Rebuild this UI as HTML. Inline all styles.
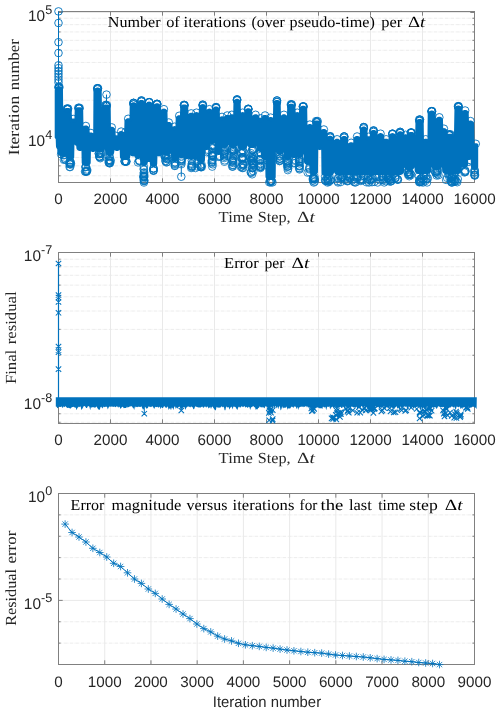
<!DOCTYPE html>
<html><head><meta charset="utf-8"><style>
html,body{margin:0;padding:0;background:#fff;}
svg{display:block;}
text{text-rendering:geometricPrecision;}
</style></head><body>
<svg width="500" height="712" viewBox="0 0 500 712">
<rect width="500" height="712" fill="#fff"/>
<line x1="58.5" y1="175.78" x2="474.5" y2="175.78" stroke="#ececec" stroke-width="1" stroke-dasharray="3.6 0.8 0.5 0.7"/>
<line x1="58.5" y1="165.84" x2="474.5" y2="165.84" stroke="#ececec" stroke-width="1" stroke-dasharray="3.6 0.8 0.5 0.7"/>
<line x1="58.5" y1="157.44" x2="474.5" y2="157.44" stroke="#ececec" stroke-width="1" stroke-dasharray="3.6 0.8 0.5 0.7"/>
<line x1="58.5" y1="150.16" x2="474.5" y2="150.16" stroke="#ececec" stroke-width="1" stroke-dasharray="3.6 0.8 0.5 0.7"/>
<line x1="58.5" y1="143.74" x2="474.5" y2="143.74" stroke="#ececec" stroke-width="1" stroke-dasharray="3.6 0.8 0.5 0.7"/>
<line x1="58.5" y1="100.22" x2="474.5" y2="100.22" stroke="#ececec" stroke-width="1" stroke-dasharray="3.6 0.8 0.5 0.7"/>
<line x1="58.5" y1="78.12" x2="474.5" y2="78.12" stroke="#ececec" stroke-width="1" stroke-dasharray="3.6 0.8 0.5 0.7"/>
<line x1="58.5" y1="62.44" x2="474.5" y2="62.44" stroke="#ececec" stroke-width="1" stroke-dasharray="3.6 0.8 0.5 0.7"/>
<line x1="58.5" y1="50.28" x2="474.5" y2="50.28" stroke="#ececec" stroke-width="1" stroke-dasharray="3.6 0.8 0.5 0.7"/>
<line x1="58.5" y1="40.34" x2="474.5" y2="40.34" stroke="#ececec" stroke-width="1" stroke-dasharray="3.6 0.8 0.5 0.7"/>
<line x1="58.5" y1="31.94" x2="474.5" y2="31.94" stroke="#ececec" stroke-width="1" stroke-dasharray="3.6 0.8 0.5 0.7"/>
<line x1="58.5" y1="24.66" x2="474.5" y2="24.66" stroke="#ececec" stroke-width="1" stroke-dasharray="3.6 0.8 0.5 0.7"/>
<line x1="58.5" y1="18.24" x2="474.5" y2="18.24" stroke="#ececec" stroke-width="1" stroke-dasharray="3.6 0.8 0.5 0.7"/>
<line x1="58.5" y1="138" x2="474.5" y2="138" stroke="#e9e9e9" stroke-width="1"/>
<line x1="58.5" y1="12.5" x2="474.5" y2="12.5" stroke="#e9e9e9" stroke-width="1"/>
<line x1="110.5" y1="11.5" x2="110.5" y2="182.5" stroke="#e9e9e9" stroke-width="1"/>
<line x1="162.5" y1="11.5" x2="162.5" y2="182.5" stroke="#e9e9e9" stroke-width="1"/>
<line x1="214.5" y1="11.5" x2="214.5" y2="182.5" stroke="#e9e9e9" stroke-width="1"/>
<line x1="266.5" y1="11.5" x2="266.5" y2="182.5" stroke="#e9e9e9" stroke-width="1"/>
<line x1="318.5" y1="11.5" x2="318.5" y2="182.5" stroke="#e9e9e9" stroke-width="1"/>
<line x1="370.5" y1="11.5" x2="370.5" y2="182.5" stroke="#e9e9e9" stroke-width="1"/>
<line x1="422.5" y1="11.5" x2="422.5" y2="182.5" stroke="#e9e9e9" stroke-width="1"/>
<line x1="58.5" y1="422.27" x2="474.5" y2="422.27" stroke="#ececec" stroke-width="1" stroke-dasharray="3.6 0.8 0.5 0.7"/>
<line x1="58.5" y1="413.75" x2="474.5" y2="413.75" stroke="#ececec" stroke-width="1" stroke-dasharray="3.6 0.8 0.5 0.7"/>
<line x1="58.5" y1="406.23" x2="474.5" y2="406.23" stroke="#ececec" stroke-width="1" stroke-dasharray="3.6 0.8 0.5 0.7"/>
<line x1="58.5" y1="355.25" x2="474.5" y2="355.25" stroke="#ececec" stroke-width="1" stroke-dasharray="3.6 0.8 0.5 0.7"/>
<line x1="58.5" y1="329.36" x2="474.5" y2="329.36" stroke="#ececec" stroke-width="1" stroke-dasharray="3.6 0.8 0.5 0.7"/>
<line x1="58.5" y1="311" x2="474.5" y2="311" stroke="#ececec" stroke-width="1" stroke-dasharray="3.6 0.8 0.5 0.7"/>
<line x1="58.5" y1="296.75" x2="474.5" y2="296.75" stroke="#ececec" stroke-width="1" stroke-dasharray="3.6 0.8 0.5 0.7"/>
<line x1="58.5" y1="285.11" x2="474.5" y2="285.11" stroke="#ececec" stroke-width="1" stroke-dasharray="3.6 0.8 0.5 0.7"/>
<line x1="58.5" y1="275.27" x2="474.5" y2="275.27" stroke="#ececec" stroke-width="1" stroke-dasharray="3.6 0.8 0.5 0.7"/>
<line x1="58.5" y1="266.75" x2="474.5" y2="266.75" stroke="#ececec" stroke-width="1" stroke-dasharray="3.6 0.8 0.5 0.7"/>
<line x1="58.5" y1="259.23" x2="474.5" y2="259.23" stroke="#ececec" stroke-width="1" stroke-dasharray="3.6 0.8 0.5 0.7"/>
<line x1="58.5" y1="399.5" x2="474.5" y2="399.5" stroke="#e9e9e9" stroke-width="1"/>
<line x1="110.5" y1="252.5" x2="110.5" y2="423.5" stroke="#e9e9e9" stroke-width="1"/>
<line x1="162.5" y1="252.5" x2="162.5" y2="423.5" stroke="#e9e9e9" stroke-width="1"/>
<line x1="214.5" y1="252.5" x2="214.5" y2="423.5" stroke="#e9e9e9" stroke-width="1"/>
<line x1="266.5" y1="252.5" x2="266.5" y2="423.5" stroke="#e9e9e9" stroke-width="1"/>
<line x1="318.5" y1="252.5" x2="318.5" y2="423.5" stroke="#e9e9e9" stroke-width="1"/>
<line x1="370.5" y1="252.5" x2="370.5" y2="423.5" stroke="#e9e9e9" stroke-width="1"/>
<line x1="422.5" y1="252.5" x2="422.5" y2="423.5" stroke="#e9e9e9" stroke-width="1"/>
<line x1="58.5" y1="643.12" x2="474.5" y2="643.12" stroke="#ececec" stroke-width="1" stroke-dasharray="3.6 0.8 0.5 0.7"/>
<line x1="58.5" y1="621.75" x2="474.5" y2="621.75" stroke="#ececec" stroke-width="1" stroke-dasharray="3.6 0.8 0.5 0.7"/>
<line x1="58.5" y1="579" x2="474.5" y2="579" stroke="#ececec" stroke-width="1" stroke-dasharray="3.6 0.8 0.5 0.7"/>
<line x1="58.5" y1="557.62" x2="474.5" y2="557.62" stroke="#ececec" stroke-width="1" stroke-dasharray="3.6 0.8 0.5 0.7"/>
<line x1="58.5" y1="536.25" x2="474.5" y2="536.25" stroke="#ececec" stroke-width="1" stroke-dasharray="3.6 0.8 0.5 0.7"/>
<line x1="58.5" y1="514.88" x2="474.5" y2="514.88" stroke="#ececec" stroke-width="1" stroke-dasharray="3.6 0.8 0.5 0.7"/>
<line x1="58.5" y1="600.38" x2="474.5" y2="600.38" stroke="#e9e9e9" stroke-width="1"/>
<line x1="104.72" y1="493.5" x2="104.72" y2="664.5" stroke="#e9e9e9" stroke-width="1"/>
<line x1="150.94" y1="493.5" x2="150.94" y2="664.5" stroke="#e9e9e9" stroke-width="1"/>
<line x1="197.17" y1="493.5" x2="197.17" y2="664.5" stroke="#e9e9e9" stroke-width="1"/>
<line x1="243.39" y1="493.5" x2="243.39" y2="664.5" stroke="#e9e9e9" stroke-width="1"/>
<line x1="289.61" y1="493.5" x2="289.61" y2="664.5" stroke="#e9e9e9" stroke-width="1"/>
<line x1="335.83" y1="493.5" x2="335.83" y2="664.5" stroke="#e9e9e9" stroke-width="1"/>
<line x1="382.06" y1="493.5" x2="382.06" y2="664.5" stroke="#e9e9e9" stroke-width="1"/>
<line x1="428.28" y1="493.5" x2="428.28" y2="664.5" stroke="#e9e9e9" stroke-width="1"/>
<path d="M110.5 182.5V178.3M110.5 11.5V15.7M162.5 182.5V178.3M162.5 11.5V15.7M214.5 182.5V178.3M214.5 11.5V15.7M266.5 182.5V178.3M266.5 11.5V15.7M318.5 182.5V178.3M318.5 11.5V15.7M370.5 182.5V178.3M370.5 11.5V15.7M422.5 182.5V178.3M422.5 11.5V15.7M58.5 138H62.7M474.5 138H470.3M58.5 12.5H62.7M474.5 12.5H470.3M58.5 175.78H60.6M474.5 175.78H472.4M58.5 165.84H60.6M474.5 165.84H472.4M58.5 157.44H60.6M474.5 157.44H472.4M58.5 150.16H60.6M474.5 150.16H472.4M58.5 143.74H60.6M474.5 143.74H472.4M58.5 100.22H60.6M474.5 100.22H472.4M58.5 78.12H60.6M474.5 78.12H472.4M58.5 62.44H60.6M474.5 62.44H472.4M58.5 50.28H60.6M474.5 50.28H472.4M58.5 40.34H60.6M474.5 40.34H472.4M58.5 31.94H60.6M474.5 31.94H472.4M58.5 24.66H60.6M474.5 24.66H472.4M58.5 18.24H60.6M474.5 18.24H472.4" stroke="#808080" stroke-width="1" fill="none"/>
<rect x="58.5" y="11.5" width="416.0" height="171.0" fill="none" stroke="#808080" stroke-width="1"/>
<path d="M110.5 423.5V419.3M110.5 252.5V256.7M162.5 423.5V419.3M162.5 252.5V256.7M214.5 423.5V419.3M214.5 252.5V256.7M266.5 423.5V419.3M266.5 252.5V256.7M318.5 423.5V419.3M318.5 252.5V256.7M370.5 423.5V419.3M370.5 252.5V256.7M422.5 423.5V419.3M422.5 252.5V256.7M58.5 399.5H62.7M474.5 399.5H470.3M58.5 252.5H62.7M474.5 252.5H470.3M58.5 422.27H60.6M474.5 422.27H472.4M58.5 413.75H60.6M474.5 413.75H472.4M58.5 406.23H60.6M474.5 406.23H472.4M58.5 355.25H60.6M474.5 355.25H472.4M58.5 329.36H60.6M474.5 329.36H472.4M58.5 311H60.6M474.5 311H472.4M58.5 296.75H60.6M474.5 296.75H472.4M58.5 285.11H60.6M474.5 285.11H472.4M58.5 275.27H60.6M474.5 275.27H472.4M58.5 266.75H60.6M474.5 266.75H472.4M58.5 259.23H60.6M474.5 259.23H472.4" stroke="#808080" stroke-width="1" fill="none"/>
<rect x="58.5" y="252.5" width="416.0" height="171.0" fill="none" stroke="#808080" stroke-width="1"/>
<path d="M104.72 664.5V660.3M104.72 493.5V497.7M150.94 664.5V660.3M150.94 493.5V497.7M197.17 664.5V660.3M197.17 493.5V497.7M243.39 664.5V660.3M243.39 493.5V497.7M289.61 664.5V660.3M289.61 493.5V497.7M335.83 664.5V660.3M335.83 493.5V497.7M382.06 664.5V660.3M382.06 493.5V497.7M428.28 664.5V660.3M428.28 493.5V497.7M58.5 493.5H62.7M474.5 493.5H470.3M58.5 600.38H62.7M474.5 600.38H470.3M58.5 643.12H60.6M474.5 643.12H472.4M58.5 621.75H60.6M474.5 621.75H472.4M58.5 579H60.6M474.5 579H472.4M58.5 557.62H60.6M474.5 557.62H472.4M58.5 536.25H60.6M474.5 536.25H472.4M58.5 514.88H60.6M474.5 514.88H472.4" stroke="#808080" stroke-width="1" fill="none"/>
<rect x="58.5" y="493.5" width="416.0" height="171.0" fill="none" stroke="#808080" stroke-width="1"/>
<polygon fill="#0072BD" points="54.7,90 54.95,88.64 55.2,88.12 55.45,87.73 55.7,87.43 55.95,87.18 56.2,86.98 56.45,86.8 56.7,86.65 56.95,86.53 57.2,86.43 57.45,86.35 57.7,86.29 57.95,86.24 58.2,86.21 58.45,86.2 58.7,86.2 58.95,86.2 59.2,86.2 59.45,86.2 59.7,86.22 59.95,86.26 60.2,86.31 60.45,86.38 60.7,86.47 60.95,86.58 61.2,86.71 61.45,86.87 61.7,87.05 61.95,87.28 62.2,87.54 62.45,87.87 62.7,88.3 62.95,88.94 63.2,110.83 63.45,110.11 63.7,109.65 63.95,109.3 64.2,109.03 64.45,108.8 64.7,108.6 64.95,108.44 65.2,108.3 65.45,108.19 65.7,108.09 65.95,108.02 66.2,107.97 66.45,107.93 66.7,107.91 66.95,107.9 67.2,107.9 67.45,107.9 67.7,107.9 67.95,107.9 68.2,107.9 68.45,107.92 68.7,107.95 68.95,108 69.2,108.06 69.45,108.15 69.7,108.25 69.95,108.38 70.2,108.53 70.45,108.71 70.7,108.93 70.95,109.19 71.2,109.5 71.45,109.91 71.7,110.48 71.95,118.61 72.2,118.53 72.45,118.47 72.7,118.43 72.95,118.41 73.2,118.4 73.45,118.41 73.7,118.43 73.95,118.47 74.2,118.53 74.45,118.61 74.7,109.78 74.95,109.21 75.2,108.8 75.45,108.49 75.7,108.23 75.95,108.01 76.2,107.83 76.45,107.68 76.7,107.55 76.95,107.45 77.2,107.36 77.45,107.3 77.7,107.25 77.95,107.22 78.2,107.2 78.45,107.2 78.7,107.2 78.95,107.2 79.2,107.2 79.45,107.2 79.7,107.2 79.95,107.22 80.2,107.25 80.45,107.3 80.7,107.36 80.95,107.45 81.2,107.55 81.45,107.68 81.7,107.83 81.95,108.01 82.2,108.23 82.45,108.49 82.7,108.8 82.95,109.21 83.2,109.78 83.45,126.25 83.7,126.07 83.95,125.91 84.2,125.78 84.45,125.67 84.7,125.58 84.95,125.51 85.2,125.46 85.45,125.42 85.7,125.4 85.95,125.4 86.2,125.42 86.45,125.45 86.7,125.5 86.95,125.56 87.2,125.65 87.45,125.75 87.7,125.88 87.95,126.03 88.2,126.21 88.45,126.43 88.7,126.69 88.95,127 89.2,127.41 89.45,127.98 89.7,132.58 89.95,132.51 90.2,132.46 90.45,132.42 90.7,132.4 90.95,132.4 91.2,132.42 91.45,132.45 91.7,132.5 91.95,132.56 92.2,132.65 92.45,132.75 92.7,132.88 92.95,133.03 93.2,133.21 93.45,90.79 93.7,89.92 93.95,89.43 94.2,89.07 94.45,88.78 94.7,88.54 94.95,88.34 95.2,88.17 95.45,88.03 95.7,87.91 95.95,87.81 96.2,87.73 96.45,87.67 96.7,87.63 96.95,87.61 97.2,87.6 97.45,87.6 97.7,87.6 97.95,87.6 98.2,87.61 98.45,87.63 98.7,87.67 98.95,87.72 99.2,87.79 99.45,87.89 99.7,88 99.95,88.14 100.2,88.3 100.45,88.5 100.7,88.73 100.95,89 101.2,89.35 101.45,89.81 101.7,90.53 101.95,107.14 102.2,106.5 102.45,106.07 102.7,105.74 102.95,105.48 103.2,105.25 103.45,105.07 103.7,104.91 103.95,104.78 104.2,104.67 104.45,104.58 104.7,104.51 104.95,104.46 105.2,104.42 105.45,104.4 105.7,104.4 105.95,104.4 106.2,104.4 106.45,104.4 106.7,104.4 106.95,104.4 107.2,104.41 107.45,104.44 107.7,104.49 107.95,104.55 108.2,104.63 108.45,104.73 108.7,104.85 108.95,105 109.2,105.18 109.45,105.38 109.7,105.63 109.95,105.93 110.2,106.32 110.45,106.84 110.7,108.2 110.95,126.89 111.2,126.84 111.45,126.81 111.7,126.8 111.95,126.81 112.2,126.83 112.45,126.87 112.7,126.92 112.95,126.99 113.2,127.09 113.45,127.2 113.7,127.34 113.95,127.5 114.2,127.7 114.45,127.93 114.7,128.2 114.95,128.55 115.2,129.01 115.45,129.73 115.7,135.2 115.95,135.22 116.2,135.25 116.45,135.3 116.7,135.36 116.95,135.45 117.2,135.55 117.45,134.19 117.7,133.32 117.95,132.83 118.2,132.47 118.45,132.18 118.7,131.94 118.95,131.74 119.2,131.57 119.45,131.43 119.7,131.31 119.95,131.21 120.2,131.13 120.45,131.07 120.7,131.03 120.95,131.01 121.2,131 121.45,131.01 121.7,131.03 121.95,131.07 122.2,131.13 122.45,131.21 122.7,131.31 122.95,131.43 123.2,131.57 123.45,131.74 123.7,131.94 123.95,131.99 124.2,131.89 124.45,121.39 124.7,120.52 124.95,120.03 125.2,119.67 125.45,119.38 125.7,119.14 125.95,118.94 126.2,118.77 126.45,118.63 126.7,118.51 126.95,118.41 127.2,118.33 127.45,118.27 127.7,118.23 127.95,118.21 128.2,118.2 128.45,118.21 128.7,118.23 128.95,118.27 129.2,118.33 129.45,118.41 129.7,105.23 129.95,104.51 130.2,104.05 130.45,103.7 130.7,103.43 130.95,103.2 131.2,103 131.45,102.84 131.7,102.7 131.95,102.59 132.2,102.49 132.45,102.42 132.7,102.37 132.95,102.33 133.2,102.31 133.45,102.3 133.7,102.3 133.95,102.3 134.2,102.32 134.45,102.36 134.7,102.41 134.95,102.48 135.2,102.57 135.45,102.68 135.7,102.81 135.95,102.97 136.2,103.15 136.45,103.38 136.7,103.64 136.95,103.97 137.2,104.4 137.45,105.04 137.7,102.83 137.95,102.11 138.2,101.65 138.45,101.3 138.7,101.03 138.95,100.8 139.2,100.6 139.45,100.44 139.7,100.3 139.95,100.19 140.2,100.09 140.45,100.02 140.7,99.97 140.95,99.93 141.2,99.91 141.45,99.9 141.7,99.91 141.95,99.93 142.2,99.97 142.45,100.02 142.7,100.09 142.95,100.19 143.2,100.3 143.45,100.44 143.7,100.6 143.95,100.8 144.2,101.03 144.45,101.3 144.7,101.65 144.95,102.11 145.2,102.83 145.45,104.34 145.7,103.7 145.95,103.27 146.2,102.94 146.45,102.68 146.7,102.45 146.95,102.27 147.2,102.11 147.45,101.98 147.7,101.87 147.95,101.78 148.2,101.71 148.45,101.66 148.7,101.62 148.95,101.6 149.2,101.6 149.45,101.61 149.7,101.63 149.95,101.67 150.2,101.73 150.45,101.81 150.7,101.91 150.95,102.03 151.2,102.17 151.45,102.34 151.7,102.54 151.95,102.78 152.2,103.07 152.45,103.43 152.7,103.92 152.95,104.79 153.2,105.88 153.45,105.31 153.7,104.9 153.95,104.59 154.2,104.33 154.45,104.11 154.7,103.93 154.95,103.78 155.2,103.65 155.45,103.55 155.7,103.46 155.95,103.4 156.2,103.35 156.45,103.32 156.7,103.3 156.95,103.3 157.2,103.3 157.45,103.3 157.7,103.32 157.95,103.36 158.2,103.41 158.45,103.48 158.7,103.57 158.95,103.68 159.2,103.81 159.45,103.97 159.7,104.15 159.95,104.38 160.2,104.64 160.45,104.97 160.7,105.4 160.95,106.04 161.2,109.73 161.45,109.5 161.7,109.3 161.95,109.14 162.2,109 162.45,108.89 162.7,108.79 162.95,108.72 163.2,108.67 163.45,108.63 163.7,108.61 163.95,108.6 164.2,108.61 164.45,108.64 164.7,108.69 164.95,108.75 165.2,108.83 165.45,108.93 165.7,109.05 165.95,109.2 166.2,109.38 166.45,109.58 166.7,109.83 166.95,110.13 167.2,110.52 167.45,111.04 167.7,122.06 167.95,122 168.2,121.95 168.45,121.92 168.7,121.9 168.95,121.9 169.2,121.92 169.45,121.96 169.7,122.01 169.95,122.08 170.2,122.17 170.45,122.28 170.7,122.41 170.95,122.57 171.2,122.75 171.45,122.98 171.7,123.24 171.95,123.57 172.2,124 172.45,124.64 172.7,126.67 172.95,126.53 173.2,126.41 173.45,126.31 173.7,126.23 173.95,126.17 174.2,126.13 174.45,126.11 174.7,126.1 174.95,126.11 175.2,126.13 175.45,126.17 175.7,117.64 175.95,117.12 176.2,116.73 176.45,116.43 176.7,116.18 176.95,115.98 177.2,115.8 177.45,115.65 177.7,115.53 177.95,115.43 178.2,115.35 178.45,115.29 178.7,115.24 178.95,115.21 179.2,115.2 179.45,115.21 179.7,115.23 179.95,115.27 180.2,106.98 180.45,106.41 180.7,106 180.95,105.69 181.2,105.43 181.45,105.21 181.7,105.03 181.95,104.88 182.2,104.75 182.45,104.65 182.7,104.56 182.95,104.5 183.2,104.45 183.45,104.42 183.7,104.4 183.95,104.4 184.2,104.4 184.45,104.4 184.7,104.4 184.95,104.42 185.2,104.45 185.45,104.5 185.7,104.56 185.95,104.65 186.2,104.75 186.45,104.88 186.7,105.03 186.95,105.21 187.2,105.43 187.45,105.69 187.7,106 187.95,106.41 188.2,106.98 188.45,113.98 188.7,113.74 188.95,113.54 189.2,113.37 189.45,113.23 189.7,113.11 189.95,113.01 190.2,112.93 190.45,112.87 190.7,112.83 190.95,112.81 191.2,112.8 191.45,112.81 191.7,112.83 191.95,112.87 192.2,112.93 192.45,113.01 192.7,113.11 192.95,113.23 193.2,113.37 193.45,113.54 193.7,113.28 193.95,113.04 194.2,112.84 194.45,112.67 194.7,112.53 194.95,112.41 195.2,112.31 195.45,112.23 195.7,112.17 195.95,112.13 196.2,112.11 196.45,112.1 196.7,112.11 196.95,112.13 197.2,112.17 197.45,112.23 197.7,112.31 197.95,112.41 198.2,112.53 198.45,112.67 198.7,112.84 198.95,107.29 199.2,106.42 199.45,105.93 199.7,105.57 199.95,105.28 200.2,105.04 200.45,104.84 200.7,104.67 200.95,104.53 201.2,104.41 201.45,104.31 201.7,104.23 201.95,104.17 202.2,104.13 202.45,104.11 202.7,104.1 202.95,104.1 203.2,104.12 203.45,104.16 203.7,104.21 203.95,104.28 204.2,104.37 204.45,104.48 204.7,104.61 204.95,104.77 205.2,104.95 205.45,105.18 205.7,105.44 205.95,105.77 206.2,106.2 206.45,106.84 206.7,109.73 206.95,109.5 207.2,109.3 207.45,109.14 207.7,109 207.95,108.89 208.2,108.79 208.45,108.72 208.7,108.67 208.95,108.63 209.2,108.61 209.45,108.6 209.7,108.61 209.95,108.64 210.2,108.69 210.45,108.75 210.7,108.83 210.95,108.93 211.2,109.05 211.45,109.2 211.7,109.38 211.95,109.58 212.2,109.83 212.45,108.94 212.7,108.42 212.95,108.03 213.2,107.73 213.45,107.48 213.7,107.28 213.95,107.1 214.2,106.95 214.45,106.83 214.7,106.73 214.95,106.65 215.2,106.59 215.45,106.54 215.7,106.51 215.95,106.5 216.2,106.5 216.45,106.52 216.7,106.55 216.95,106.6 217.2,106.66 217.45,106.75 217.7,106.85 217.95,106.98 218.2,107.13 218.45,107.31 218.7,107.53 218.95,107.79 219.2,108.1 219.45,108.51 219.7,109.08 219.95,116.9 220.2,116.75 220.45,116.63 220.7,116.53 220.95,116.45 221.2,116.39 221.45,116.34 221.7,116.31 221.95,116.3 222.2,116.31 222.45,116.33 222.7,116.37 222.95,116.42 223.2,116.49 223.45,116.59 223.7,116.7 223.95,116.82 224.2,116.43 224.45,116.13 224.7,115.88 224.95,115.68 225.2,115.5 225.45,115.35 225.7,115.23 225.95,115.13 226.2,115.05 226.45,114.99 226.7,114.94 226.95,114.91 227.2,114.9 227.45,114.91 227.7,114.93 227.95,114.97 228.2,115.02 228.45,115.09 228.7,115.19 228.95,115.3 229.2,115.23 229.45,115.01 229.7,114.83 229.95,114.68 230.2,114.55 230.45,114.45 230.7,114.36 230.95,114.3 231.2,114.25 231.45,114.22 231.7,114.2 231.95,114.2 232.2,114.22 232.45,114.26 232.7,114.31 232.95,114.38 233.2,114.47 233.45,101.24 233.7,100.72 233.95,100.33 234.2,100.03 234.45,99.78 234.7,99.58 234.95,99.4 235.2,99.25 235.45,99.13 235.7,99.03 235.95,98.95 236.2,98.89 236.45,98.84 236.7,98.81 236.95,98.8 237.2,98.8 237.45,98.82 237.7,98.85 237.95,98.9 238.2,98.96 238.45,99.05 238.7,99.15 238.95,99.28 239.2,99.43 239.45,99.61 239.7,99.83 239.95,100.09 240.2,100.4 240.45,100.81 240.7,101.38 240.95,112.5 241.2,112.39 241.45,112.29 241.7,112.22 241.95,112.17 242.2,112.13 242.45,112.11 242.7,112.1 242.95,112.11 243.2,112.14 243.45,112.19 243.7,112.25 243.95,112.33 244.2,112.43 244.45,111.39 244.7,110.52 244.95,110.03 245.2,109.67 245.45,109.38 245.7,109.14 245.95,108.94 246.2,108.77 246.45,108.63 246.7,108.51 246.95,108.41 247.2,108.33 247.45,108.27 247.7,108.23 247.95,108.21 248.2,108.2 248.45,108.2 248.7,108.22 248.95,108.26 249.2,108.31 249.45,108.38 249.7,108.47 249.95,108.58 250.2,108.71 250.45,108.87 250.7,109.05 250.95,109.28 251.2,109.54 251.45,109.87 251.7,110.3 251.95,110.94 252.2,116.3 252.45,115.87 252.7,115.54 252.95,115.28 253.2,115.05 253.45,114.87 253.7,114.71 253.95,114.58 254.2,114.47 254.45,114.38 254.7,114.31 254.95,114.26 255.2,114.22 255.45,114.2 255.7,114.2 255.95,114.22 256.2,114.25 256.45,114.3 256.7,114.36 256.95,114.45 257.2,114.55 257.45,114.68 257.7,114.83 257.95,115.01 258.2,115.23 258.45,115.49 258.7,115.8 258.95,116.21 259.2,116.78 259.45,117.85 259.7,117.79 259.95,117.74 260.2,117.71 260.45,117.7 260.7,117.71 260.95,117.73 261.2,117.77 261.45,117.48 261.7,116.91 261.95,116.5 262.2,116.19 262.45,115.93 262.7,115.71 262.95,115.53 263.2,115.38 263.45,115.25 263.7,115.15 263.95,115.06 264.2,115 264.45,114.95 264.7,114.92 264.95,114.9 265.2,114.9 265.45,114.92 265.7,114.96 265.95,115.01 266.2,115.08 266.45,115.17 266.7,115.28 266.95,115.41 267.2,115.57 267.45,115.75 267.7,115.98 267.95,116.24 268.2,116.57 268.45,117 268.7,117.54 268.95,117.4 269.2,117.29 269.45,117.19 269.7,117.12 269.95,117.07 270.2,117.03 270.45,117.01 270.7,117 270.95,117.01 271.2,117.04 271.45,117.09 271.7,117.15 271.95,117.23 272.2,117.33 272.45,117.45 272.7,117.6 272.95,117.78 273.2,102.83 273.45,102.11 273.7,101.65 273.95,101.3 274.2,101.03 274.45,100.8 274.7,100.6 274.95,100.44 275.2,100.3 275.45,100.19 275.7,100.09 275.95,100.02 276.2,99.97 276.45,99.93 276.7,99.91 276.95,99.9 277.2,99.91 277.45,99.93 277.7,99.97 277.95,100.02 278.2,100.09 278.45,100.19 278.7,100.3 278.95,100.44 279.2,100.6 279.45,100.8 279.7,101.03 279.95,101.3 280.2,101.65 280.45,102.11 280.7,102.83 280.95,115.67 281.2,115.38 281.45,115.14 281.7,114.94 281.95,114.77 282.2,114.63 282.45,114.51 282.7,114.41 282.95,114.33 283.2,114.27 283.45,114.23 283.7,114.21 283.95,114.2 284.2,114.21 284.45,114.23 284.7,114.27 284.95,114.33 285.2,114.41 285.45,114.51 285.7,114.63 285.95,114.77 286.2,114.94 286.45,115.14 286.7,115.38 286.95,115.67 287.2,106.63 287.45,105.91 287.7,105.45 287.95,105.1 288.2,104.83 288.45,104.6 288.7,104.4 288.95,104.24 289.2,104.1 289.45,103.99 289.7,103.89 289.95,103.82 290.2,103.77 290.45,103.73 290.7,103.71 290.95,103.7 291.2,103.7 291.45,103.7 291.7,103.7 291.95,103.71 292.2,103.73 292.45,103.77 292.7,103.83 292.95,103.91 293.2,104.01 293.45,104.13 293.7,104.27 293.95,104.44 294.2,104.64 294.45,104.88 294.7,105.17 294.95,105.53 295.2,106.02 295.45,106.89 295.7,112.43 295.95,112.33 296.2,112.25 296.45,112.19 296.7,112.14 296.95,112.11 297.2,112.1 297.45,112.11 297.7,112.13 297.95,112.17 298.2,112.22 298.45,112.29 298.7,112.39 298.95,112.5 299.2,108.38 299.45,107.81 299.7,107.4 299.95,107.09 300.2,106.83 300.45,106.61 300.7,106.43 300.95,106.28 301.2,106.15 301.45,106.05 301.7,105.96 301.95,105.9 302.2,105.85 302.45,105.82 302.7,105.8 302.95,105.8 303.2,105.8 303.45,105.8 303.7,105.8 303.95,105.82 304.2,105.85 304.45,105.9 304.7,105.96 304.95,106.05 305.2,106.15 305.45,106.28 305.7,106.43 305.95,106.61 306.2,106.83 306.45,107.09 306.7,107.4 306.95,107.81 307.2,108.38 307.45,124.85 307.7,124.67 307.95,124.51 308.2,124.38 308.45,124.27 308.7,124.18 308.95,124.11 309.2,124.06 309.45,124.02 309.7,124 309.95,124 310.2,124.02 310.45,124.05 310.7,124.1 310.95,124.16 311.2,124.25 311.45,124.35 311.7,124.48 311.95,124.63 312.2,124.81 312.45,123.24 312.7,122.6 312.95,122.17 313.2,121.84 313.45,121.58 313.7,121.35 313.95,121.17 314.2,121.01 314.45,120.88 314.7,120.77 314.95,120.68 315.2,120.61 315.45,120.56 315.7,120.52 315.95,120.5 316.2,120.5 316.45,120.5 316.7,120.5 316.95,120.5 317.2,120.5 317.45,120.5 317.7,120.5 317.95,120.52 318.2,120.55 318.45,120.6 318.7,120.66 318.95,120.75 319.2,120.85 319.45,120.98 319.7,121.13 319.95,121.31 320.2,121.53 320.45,121.79 320.7,122.1 320.95,122.51 321.2,123.08 321.45,129.75 321.7,129.57 321.95,129.41 322.2,129.28 322.45,129.17 322.7,129.08 322.95,129.01 323.2,128.96 323.45,128.92 323.7,128.9 323.95,128.9 324.2,128.92 324.45,128.95 324.7,129 324.95,129.06 325.2,129.15 325.45,129.25 325.7,129.38 325.95,129.53 326.2,129.71 326.45,129.93 326.7,130.19 326.95,130.5 327.2,130.91 327.45,131.48 327.7,136.55 327.95,136.37 328.2,136.21 328.45,136.08 328.7,135.97 328.95,135.88 329.2,135.81 329.45,135.76 329.7,135.72 329.95,135.7 330.2,135.7 330.45,135.71 330.7,135.73 330.95,135.77 331.2,135.83 331.45,135.91 331.7,136.01 331.95,136.13 332.2,136.27 332.45,136.44 332.7,136.64 332.95,136.88 333.2,137.17 333.45,137.53 333.7,138.02 333.95,138.89 334.2,140.1 334.45,139.83 334.7,139.6 334.95,139.4 335.2,139.24 335.45,139.1 335.7,138.99 335.95,138.89 336.2,138.82 336.45,138.77 336.7,138.73 336.95,138.71 337.2,138.7 337.45,138.71 337.7,138.74 337.95,138.79 338.2,138.85 338.45,138.93 338.7,139.03 338.95,139.15 339.2,139.3 339.45,139.48 339.7,139.68 339.95,139.93 340.2,140.23 340.45,138.64 340.7,138 340.95,137.57 341.2,137.24 341.45,136.98 341.7,136.75 341.95,136.57 342.2,136.41 342.45,136.28 342.7,136.17 342.95,136.08 343.2,136.01 343.45,135.96 343.7,135.92 343.95,135.9 344.2,135.9 344.45,135.91 344.7,135.93 344.95,135.97 345.2,136.03 345.45,136.11 345.7,136.21 345.95,136.33 346.2,136.47 346.45,136.64 346.7,136.84 346.95,137.08 347.2,137.37 347.45,137.73 347.7,138.22 347.95,139.09 348.2,143.6 348.45,143.33 348.7,143.1 348.95,142.9 349.2,142.74 349.45,142.6 349.7,142.49 349.95,142.39 350.2,142.32 350.45,142.27 350.7,142.23 350.95,142.21 351.2,142.2 351.45,142.21 351.7,142.24 351.95,142.29 352.2,142.35 352.45,142.43 352.7,142.53 352.95,142.65 353.2,142.8 353.45,138.64 353.7,138 353.95,137.57 354.2,137.24 354.45,136.98 354.7,136.75 354.95,136.57 355.2,136.41 355.45,136.28 355.7,136.17 355.95,136.08 356.2,136.01 356.45,135.96 356.7,135.92 356.95,135.9 357.2,135.9 357.45,135.92 357.7,135.95 357.95,136 358.2,136.06 358.45,136.15 358.7,136.25 358.95,136.38 359.2,136.53 359.45,136.71 359.7,136.93 359.95,129.69 360.2,128.82 360.45,128.33 360.7,127.97 360.95,127.68 361.2,127.44 361.45,127.24 361.7,127.07 361.95,126.93 362.2,126.81 362.45,126.71 362.7,126.63 362.95,126.57 363.2,126.53 363.45,126.51 363.7,126.5 363.95,126.5 364.2,126.52 364.45,126.56 364.7,126.61 364.95,126.68 365.2,126.77 365.45,126.88 365.7,127.01 365.95,127.17 366.2,127.35 366.45,127.58 366.7,127.84 366.95,128.17 367.2,128.6 367.45,129.24 367.7,136.32 367.95,136.27 368.2,136.23 368.45,136.21 368.7,136.2 368.95,136.21 369.2,136.24 369.45,136.29 369.7,136.35 369.95,132.34 370.2,131.82 370.45,131.43 370.7,131.13 370.95,130.88 371.2,130.68 371.45,130.5 371.7,130.35 371.95,130.23 372.2,130.13 372.45,130.05 372.7,129.99 372.95,129.94 373.2,129.91 373.45,129.9 373.7,129.9 373.95,129.92 374.2,129.95 374.45,130 374.7,130.06 374.95,130.15 375.2,130.25 375.45,130.38 375.7,130.53 375.95,130.71 376.2,130.93 376.45,131.19 376.7,131.5 376.95,131.91 377.2,132.48 377.45,134.7 377.7,134.39 377.95,134.13 378.2,133.91 378.45,133.73 378.7,133.58 378.95,133.45 379.2,133.35 379.45,133.26 379.7,133.2 379.95,133.15 380.2,133.12 380.45,133.1 380.7,133.1 380.95,133.12 381.2,133.16 381.45,133.21 381.7,133.28 381.95,133.37 382.2,133.48 382.45,133.61 382.7,133.77 382.95,133.95 383.2,134.18 383.45,134.44 383.7,134.77 383.95,135.2 384.2,135.84 384.45,139.1 384.7,138.99 384.95,138.89 385.2,138.82 385.45,138.77 385.7,138.73 385.95,138.71 386.2,138.7 386.45,138.71 386.7,138.74 386.95,138.79 387.2,138.85 387.45,138.93 387.7,139.03 387.95,139.15 388.2,139.3 388.45,139.48 388.7,136.03 388.95,135.31 389.2,134.85 389.45,134.5 389.7,134.23 389.95,134 390.2,133.8 390.45,133.64 390.7,133.5 390.95,133.39 391.2,133.29 391.45,133.22 391.7,133.17 391.95,133.13 392.2,133.11 392.45,133.1 392.7,133.11 392.95,133.13 393.2,133.17 393.45,133.22 393.7,133.29 393.95,133.39 394.2,133.5 394.45,133.64 394.7,133.8 394.95,134 395.2,134.23 395.45,134.5 395.7,134.85 395.95,135.31 396.2,136.03 396.45,134.04 396.7,133.4 396.95,132.97 397.2,132.64 397.45,132.38 397.7,132.15 397.95,131.97 398.2,131.81 398.45,131.68 398.7,131.57 398.95,131.48 399.2,131.41 399.45,131.36 399.7,131.32 399.95,131.3 400.2,131.3 400.45,131.31 400.7,131.33 400.95,131.37 401.2,131.43 401.45,131.51 401.7,131.61 401.95,131.73 402.2,131.87 402.45,132.04 402.7,132.24 402.95,132.48 403.2,132.77 403.45,133.13 403.7,133.62 403.95,134.49 404.2,134.43 404.45,134.35 404.7,134.29 404.95,134.24 405.2,134.21 405.45,134.2 405.7,134.21 405.95,134.23 406.2,134.27 406.45,134.32 406.7,134.39 406.95,134.49 407.2,134.48 407.45,133.91 407.7,133.5 407.95,133.19 408.2,132.93 408.45,132.71 408.7,132.53 408.95,132.38 409.2,132.25 409.45,132.15 409.7,132.06 409.95,132 410.2,131.95 410.45,131.92 410.7,131.9 410.95,131.9 411.2,131.9 411.45,131.9 411.7,131.9 411.95,131.92 412.2,131.95 412.45,132 412.7,132.06 412.95,132.15 413.2,132.25 413.45,132.38 413.7,132.53 413.95,132.71 414.2,132.93 414.45,133.19 414.7,133.5 414.95,133.91 415.2,134.48 415.45,122.19 415.7,121.32 415.95,120.83 416.2,120.47 416.45,120.18 416.7,119.94 416.95,119.74 417.2,119.57 417.45,119.43 417.7,119.31 417.95,119.21 418.2,119.13 418.45,119.07 418.7,119.03 418.95,119.01 419.2,119 419.45,119 419.7,119 419.95,119 420.2,119.01 420.45,119.03 420.7,119.07 420.95,119.12 421.2,119.19 421.45,119.29 421.7,119.4 421.95,119.54 422.2,119.7 422.45,119.9 422.7,120.13 422.95,120.4 423.2,120.75 423.45,121.21 423.7,121.93 423.95,139.13 424.2,139.01 424.45,138.91 424.7,138.83 424.95,138.77 425.2,138.73 425.45,138.71 425.7,138.7 425.95,138.71 426.2,138.73 426.45,138.77 426.7,138.83 426.95,138.91 427.2,139.01 427.45,139.13 427.7,113.53 427.95,112.81 428.2,112.35 428.45,112 428.7,111.73 428.95,111.5 429.2,111.3 429.45,111.14 429.7,111 429.95,110.89 430.2,110.79 430.45,110.72 430.7,110.67 430.95,110.63 431.2,110.61 431.45,110.6 431.7,110.6 431.95,110.6 432.2,110.6 432.45,110.62 432.7,110.65 432.95,110.7 433.2,110.76 433.45,110.85 433.7,110.95 433.95,111.08 434.2,111.23 434.45,111.41 434.7,111.63 434.95,111.89 435.2,112.2 435.45,112.61 435.7,113.18 435.95,118.8 436.2,118.37 436.45,118.04 436.7,117.78 436.95,117.55 437.2,117.37 437.45,117.21 437.7,117.08 437.95,116.97 438.2,116.88 438.45,116.81 438.7,116.76 438.95,116.72 439.2,116.7 439.45,116.7 439.7,116.72 439.95,116.75 440.2,116.8 440.45,116.86 440.7,116.95 440.95,117.05 441.2,117.18 441.45,117.33 441.7,117.51 441.95,117.73 442.2,117.99 442.45,118.3 442.7,118.71 442.95,119.28 443.2,128.17 443.45,128.13 443.7,128.11 443.95,128.1 444.2,128.11 444.45,128.14 444.7,128.19 444.95,128.25 445.2,128.33 445.45,128.43 445.7,128.55 445.95,128.7 446.2,128.88 446.45,129.08 446.7,129.33 446.95,129.63 447.2,130.02 447.45,130.54 447.7,133.86 447.95,133.8 448.2,133.75 448.45,133.72 448.7,133.7 448.95,133.7 449.2,133.7 449.45,133.7 449.7,133.7 449.95,133.7 450.2,133.7 450.45,133.7 450.7,133.71 450.95,133.74 451.2,133.79 451.45,133.85 451.7,133.93 451.95,134.03 452.2,134.15 452.45,134.3 452.7,134.48 452.95,134.68 453.2,134.93 453.45,135.23 453.7,135.62 453.95,136.14 454.45,108.04 454.7,107.52 454.95,107.13 455.2,106.83 455.45,106.58 455.7,106.38 455.95,106.2 456.2,106.05 456.45,105.93 456.7,105.83 456.95,105.75 457.2,105.69 457.45,105.64 457.7,105.61 457.95,105.6 458.2,105.6 458.45,105.6 458.7,105.6 458.95,105.61 459.2,105.63 459.45,105.67 459.7,105.73 459.95,105.81 460.2,105.91 460.45,106.03 460.7,106.17 460.95,106.34 461.2,106.54 461.45,106.78 461.7,107.07 461.95,107.43 462.2,107.92 462.45,108.79 462.7,110.8 462.95,110.6 463.2,110.44 463.45,110.3 463.7,110.19 463.95,110.09 464.2,110.02 464.45,109.97 464.7,109.93 464.95,109.91 465.2,109.9 465.45,109.91 465.7,109.94 465.95,109.99 466.2,110.05 466.45,110.13 466.7,110.23 466.95,110.35 467.2,110.5 467.45,110.68 467.7,110.88 467.95,111.13 468.2,111.43 468.45,111.82 468.7,112.34 468.95,120.81 469.2,120.71 469.45,120.63 469.7,120.57 469.95,120.53 470.2,120.51 470.45,120.5 470.7,120.51 470.95,120.53 471.2,120.57 471.45,120.63 471.7,120.71 471.95,120.81 472.2,120.93 472.45,121.07 472.7,121.24 472.95,121.44 473.2,121.68 473.45,121.97 473.7,122.33 473.95,122.82 474.2,123.69 474.45,143.43 474.7,143.35 474.95,143.29 475.2,143.24 475.45,143.21 475.7,143.2 475.95,143.21 476.2,143.23 476.45,143.27 476.7,143.32 476.95,143.39 477.2,143.49 477.45,143.6 477.7,143.74 477.95,143.9 478.2,144.1 478.2,167.56 477.95,168.08 477.7,168.47 477.45,168.77 477.2,169.02 476.95,169.22 476.7,169.4 476.45,169.55 476.2,169.67 475.95,169.77 475.7,169.85 475.45,169.91 475.2,169.96 474.95,169.99 474.7,170 474.45,169.99 474.2,169.97 473.95,169.93 473.7,169.88 473.45,169.81 473.2,169.71 472.95,169.6 472.7,169.46 472.45,169.3 472.2,169.1 471.95,168.87 471.7,168.6 471.45,168.25 471.2,167.79 470.95,167.07 470.7,159.57 470.45,159.69 470.2,159.79 469.95,159.87 469.7,159.93 469.45,159.97 469.2,159.99 468.95,160 468.7,159.99 468.45,159.97 468.2,159.93 467.95,165.56 467.7,166.08 467.45,166.47 467.2,166.77 466.95,167.02 466.7,167.22 466.45,167.4 466.2,167.55 465.95,167.67 465.7,167.77 465.45,167.85 465.2,167.91 464.95,167.96 464.7,167.99 464.45,168 464.2,167.99 463.95,167.97 463.7,167.93 463.45,167.88 463.2,167.81 462.95,167.71 462.7,167.6 462.45,167.46 462.2,167.3 461.95,167.1 461.7,171.07 461.45,171.79 461.2,172.25 460.95,172.6 460.7,172.87 460.45,173.1 460.2,173.3 459.95,173.46 459.7,173.6 459.45,173.71 459.2,173.81 458.95,173.88 458.7,173.93 458.45,173.97 458.2,173.99 457.95,174 457.7,174 457.45,174 457.2,174 456.95,174 456.7,174 456.45,174 456.2,174 455.95,174 455.7,174 455.45,174 455.2,174 454.95,174 454.7,174 454.45,174 454.2,174 453.95,174 453.7,174 453.45,174 453.2,174 452.95,174 452.7,174 452.45,174 452.2,174 451.95,174 451.7,174 451.45,174 451.2,174 450.95,174 450.7,174 450.45,174 450.2,174 449.95,174 449.7,174 449.45,174 449.2,174 448.95,174 448.7,174 448.45,174 448.2,174 447.95,174 447.7,174 447.45,174 447.2,174 446.95,174 446.7,174 446.45,174 446.2,174 445.95,174 445.7,174 445.45,173.98 445.2,173.95 444.95,173.9 444.7,173.84 444.45,173.75 444.2,173.65 443.95,173.52 443.7,173.37 443.45,173.19 443.2,172.97 442.95,172.71 442.7,172.4 442.45,171.99 442.2,171.42 441.95,166.81 441.7,167.68 441.45,168.17 441.2,168.53 440.95,168.82 440.7,169.06 440.45,169.26 440.2,169.43 439.95,169.57 439.7,169.69 439.45,169.79 439.2,169.87 438.95,169.93 438.7,169.97 438.45,169.99 438.2,170 437.95,170 437.7,170 437.45,170 437.2,170 436.95,170 436.7,170 436.45,170 436.2,170 435.95,170 435.7,170 435.45,170 435.2,170 434.95,169.99 434.7,169.97 434.45,169.93 434.2,169.87 433.95,169.79 433.7,169.69 433.45,169.57 433.2,169.43 432.95,169.26 432.7,169.06 432.45,168.82 432.2,168.53 431.95,168.17 431.7,167.68 431.45,166.81 431.2,171.42 430.95,171.99 430.7,172.4 430.45,172.71 430.2,172.97 429.95,173.19 429.7,173.37 429.45,173.52 429.2,173.65 428.95,173.75 428.7,173.84 428.45,173.9 428.2,173.95 427.95,173.98 427.7,174 427.45,174 427.2,174 426.95,174 426.7,174 426.45,174 426.2,174 425.95,174 425.7,174 425.45,174 425.2,174 424.95,174 424.7,174 424.45,174 424.2,174 423.95,174 423.7,174 423.45,174 423.2,174 422.95,174 422.7,174 422.45,174 422.2,174 421.95,174 421.7,174 421.45,174 421.2,174 420.95,174 420.7,174 420.45,174 420.2,174 419.95,174 419.7,174 419.45,174 419.2,174 418.95,174 418.7,174 418.45,174 418.2,173.99 417.95,173.97 417.7,173.93 417.45,173.88 417.2,173.81 416.95,173.71 416.7,173.6 416.45,173.46 416.2,173.3 415.95,173.1 415.7,172.87 415.45,172.6 415.2,172.25 414.95,171.79 414.7,171.07 414.45,167.26 414.2,167.9 413.95,168.33 413.7,168.66 413.45,168.92 413.2,169.15 412.95,169.33 412.7,169.49 412.45,169.62 412.2,169.73 411.95,169.82 411.7,169.89 411.45,169.94 411.2,169.98 410.95,170 410.7,170 410.45,170 410.2,170 409.95,170 409.7,170 409.45,170 409.2,170 408.95,170 408.7,170 408.45,170 408.2,170 407.95,170 407.7,170 407.45,169.98 407.2,169.95 406.95,169.9 406.7,169.84 406.45,169.75 406.2,169.65 405.95,169.52 405.7,169.37 405.45,169.19 405.2,168.97 404.95,168.71 404.7,168.4 404.45,167.99 404.2,167.42 403.95,171.81 403.7,172.68 403.45,173.17 403.2,173.53 402.95,173.82 402.7,174.06 402.45,174.26 402.2,174.43 401.95,174.57 401.7,174.69 401.45,174.79 401.2,174.87 400.95,174.93 400.7,174.97 400.45,174.99 400.2,175 399.95,175 399.7,175 399.45,175 399.2,175 398.95,175 398.7,175 398.45,175 398.2,175 397.95,175 397.7,175 397.45,175 397.2,175 396.95,175 396.7,175 396.45,175 396.2,175 395.95,175 395.7,175 395.45,175 395.2,175 394.95,175 394.7,175 394.45,175 394.2,175 393.95,175 393.7,175 393.45,175 393.2,175 392.95,175 392.7,175 392.45,175 392.2,175 391.95,175 391.7,175 391.45,175 391.2,175 390.95,175 390.7,175 390.45,175 390.2,175 389.95,175 389.7,175 389.45,175 389.2,175 388.95,175 388.7,175 388.45,175 388.2,175 387.95,175 387.7,175 387.45,175 387.2,175 386.95,175 386.7,175 386.45,175 386.2,175 385.95,175 385.7,175 385.45,175 385.2,175 384.95,175 384.7,175 384.45,175 384.2,175 383.95,175 383.7,175 383.45,175 383.2,175 382.95,175 382.7,175 382.45,175 382.2,175 381.95,175 381.7,175 381.45,175 381.2,175 380.95,175 380.7,175 380.45,175 380.2,175 379.95,175 379.7,175 379.45,175 379.2,175 378.95,175 378.7,175 378.45,175 378.2,175 377.95,175 377.7,175 377.45,175 377.2,175 376.95,175 376.7,175 376.45,175 376.2,175 375.95,175 375.7,175 375.45,175 375.2,175 374.95,175 374.7,175 374.45,175 374.2,175 373.95,175 373.7,175 373.45,175 373.2,175 372.95,175 372.7,175 372.45,175 372.2,175 371.95,175 371.7,175 371.45,175 371.2,175 370.95,175 370.7,175 370.45,175 370.2,175 369.95,175 369.7,175 369.45,175 369.2,175 368.95,175 368.7,175 368.45,175 368.2,175 367.95,175 367.7,175 367.45,175 367.2,175 366.95,175 366.7,175 366.45,175 366.2,175 365.95,175 365.7,175 365.45,175 365.2,175 364.95,175 364.7,175 364.45,175 364.2,175 363.95,175 363.7,175 363.45,175 363.2,175 362.95,175 362.7,175 362.45,175 362.2,175 361.95,175 361.7,175 361.45,175 361.2,175 360.95,175 360.7,175 360.45,175 360.2,175 359.95,175 359.7,175 359.45,175 359.2,175 358.95,175 358.7,175 358.45,175 358.2,175 357.95,175 357.7,175 357.45,175 357.2,175 356.95,175 356.7,175 356.45,175 356.2,175 355.95,175 355.7,175 355.45,175 355.2,175 354.95,175 354.7,175 354.45,175 354.2,175 353.95,175 353.7,175 353.45,175 353.2,175 352.95,175 352.7,175 352.45,175 352.2,175 351.95,175 351.7,175 351.45,175 351.2,175 350.95,175 350.7,175 350.45,175 350.2,175 349.95,175 349.7,175 349.45,175 349.2,175 348.95,175 348.7,175 348.45,175 348.2,175 347.95,175 347.7,175 347.45,175 347.2,175 346.95,175 346.7,175 346.45,175 346.2,175 345.95,175 345.7,175 345.45,175 345.2,175 344.95,175 344.7,175 344.45,175 344.2,175 343.95,175 343.7,175 343.45,175 343.2,175 342.95,175 342.7,175 342.45,175 342.2,175 341.95,175 341.7,175 341.45,175 341.2,175 340.95,175 340.7,175 340.45,175 340.2,175 339.95,175 339.7,175 339.45,175 339.2,175 338.95,175 338.7,175 338.45,175 338.2,175 337.95,175 337.7,175 337.45,174.98 337.2,174.95 336.95,174.9 336.7,174.84 336.45,174.75 336.2,174.65 335.95,174.52 335.7,174.37 335.45,174.19 335.2,173.97 334.95,173.71 334.7,173.4 334.45,172.99 334.2,172.42 333.95,172.81 333.7,173.68 333.45,174.17 333.2,174.53 332.95,174.82 332.7,175.06 332.45,175.26 332.2,175.43 331.95,175.57 331.7,175.69 331.45,175.79 331.2,175.87 330.95,175.93 330.7,175.97 330.45,175.99 330.2,176 329.95,176 329.7,176 329.45,176 329.2,176 328.95,176 328.7,176 328.45,176 328.2,176 327.95,176 327.7,176 327.45,176 327.2,176 326.95,176 326.7,176 326.45,176 326.2,176 325.95,176 325.7,176 325.45,176 325.2,176 324.95,176 324.7,175.99 324.45,175.96 324.2,175.91 323.95,175.85 323.7,175.77 323.45,175.67 323.2,175.55 322.95,175.4 322.7,175.22 322.45,175.02 322.2,174.77 321.95,174.47 321.7,174.08 321.45,173.56 321.2,149.69 320.95,149.79 320.7,149.87 320.45,149.93 320.2,149.97 319.95,149.99 319.7,150 319.45,149.99 319.2,149.97 318.95,149.93 318.7,149.87 318.45,149.79 318.2,149.69 317.95,172.56 317.7,173.08 317.45,173.47 317.2,173.77 316.95,174.02 316.7,174.22 316.45,174.4 316.2,174.55 315.95,174.67 315.7,174.77 315.45,174.85 315.2,174.91 314.95,174.96 314.7,174.99 314.45,175 314.2,175 313.95,175 313.7,175 313.45,175 313.2,175 312.95,175 312.7,174.98 312.45,174.94 312.2,174.89 311.95,174.82 311.7,174.73 311.45,174.62 311.2,174.49 310.95,174.33 310.7,174.15 310.45,173.92 310.2,173.66 309.95,173.33 309.7,172.9 309.45,172.26 309.2,164.67 308.95,164.77 308.7,164.85 308.45,164.91 308.2,164.96 307.95,164.99 307.7,165 307.45,164.99 307.2,164.97 306.95,164.93 306.7,164.88 306.45,164.81 306.2,164.71 305.95,164.6 305.7,164.46 305.45,164.3 305.2,164.1 304.95,163.87 304.7,163.6 304.45,163.25 304.2,162.79 303.95,162.07 303.7,153.85 303.45,154.81 303.2,155.68 302.95,156.17 302.7,156.53 302.45,156.82 302.2,157.06 301.95,157.26 301.7,157.43 301.45,157.57 301.2,157.69 300.95,157.79 300.7,157.87 300.45,157.93 300.2,157.97 299.95,157.99 299.7,158 299.45,158 299.2,158 298.95,157.98 298.7,157.95 298.45,157.9 298.2,157.84 297.95,157.75 297.7,157.65 297.45,157.52 297.2,157.37 296.95,157.19 296.7,156.97 296.45,156.87 296.2,157.1 295.95,157.3 295.7,157.46 295.45,157.6 295.2,157.71 294.95,157.81 294.7,157.88 294.45,157.93 294.2,157.97 293.95,157.99 293.7,158 293.45,157.99 293.2,157.96 292.95,157.91 292.7,157.85 292.45,157.77 292.2,157.67 291.95,157.55 291.7,157.68 291.45,158.17 291.2,158.53 290.95,158.82 290.7,159.06 290.45,159.26 290.2,159.43 289.95,159.57 289.7,159.69 289.45,159.79 289.2,159.87 288.95,159.93 288.7,159.97 288.45,159.99 288.2,160 287.95,160 287.7,160 287.45,160 287.2,159.99 286.95,159.97 286.7,159.93 286.45,159.88 286.2,159.81 285.95,159.71 285.7,159.6 285.45,159.46 285.2,159.3 284.95,159.1 284.7,158.87 284.45,158.6 284.2,158.25 283.95,157.79 283.7,157.07 283.45,152.26 283.2,152.9 282.95,153.33 282.7,153.66 282.45,153.92 282.2,154.15 281.95,154.33 281.7,154.49 281.45,154.62 281.2,154.73 280.95,154.82 280.7,154.89 280.45,154.94 280.2,154.98 279.95,155 279.7,155 279.45,154.99 279.2,154.97 278.95,154.93 278.7,154.87 278.45,154.79 278.2,154.69 277.95,154.57 277.7,154.43 277.45,154.26 277.2,154.06 276.95,153.82 276.7,153.53 276.45,153.17 276.2,152.68 275.95,151.81 275.7,177.42 275.45,177.99 275.2,178.4 274.95,178.71 274.7,178.97 274.45,179.19 274.2,179.37 273.95,179.52 273.7,179.65 273.45,179.75 273.2,179.84 272.95,179.9 272.7,179.95 272.45,179.98 272.2,180 271.95,180 271.7,180 271.45,180 271.2,180 270.95,180 270.7,180 270.45,180 270.2,180 269.95,180 269.7,180 269.45,180 269.2,180 268.95,179.99 268.7,179.97 268.45,179.93 268.2,179.87 267.95,179.79 267.7,179.69 267.45,179.57 267.2,179.43 266.95,179.26 266.7,179.06 266.45,178.82 266.2,178.53 265.95,178.17 265.7,177.68 265.45,176.81 265.2,159.97 264.95,159.99 264.7,160 264.45,159.99 264.2,159.97 263.95,159.93 263.7,159.87 263.45,159.79 263.2,159.69 262.95,159.57 262.7,159.43 262.45,159.26 262.2,159.06 261.95,158.82 261.7,158.53 261.45,158.17 261.2,157.68 260.95,156.81 260.7,151.99 260.45,152 260.2,151.99 259.95,151.96 259.7,151.91 259.45,151.85 259.2,151.77 258.95,151.67 258.7,151.55 258.45,151.4 258.2,151.22 257.95,151.02 257.7,150.77 257.45,150.47 257.2,150.08 256.95,149.56 256.7,145.68 256.45,146.17 256.2,146.53 255.95,146.82 255.7,147.06 255.45,147.26 255.2,147.43 254.95,147.57 254.7,147.69 254.45,147.79 254.2,147.87 253.95,147.93 253.7,147.97 253.45,147.99 253.2,148 252.95,148 252.7,148 252.45,148 252.2,148 251.95,148 251.7,148 251.45,148 251.2,148 250.95,148 250.7,147.99 250.45,147.96 250.2,147.91 249.95,147.85 249.7,147.77 249.45,147.67 249.2,147.55 248.95,147.4 248.7,147.22 248.45,147.02 248.2,146.77 247.95,146.47 247.7,146.08 247.45,145.56 246.95,147.56 246.7,148.08 246.45,148.47 246.2,148.77 245.95,149.02 245.7,149.22 245.45,149.4 245.2,149.55 244.95,149.67 244.7,149.77 244.45,149.85 244.2,149.91 243.95,149.96 243.7,149.99 243.45,150 243.2,150 242.95,150 242.7,150 242.45,150 242.2,150 241.95,150 241.7,150 241.45,150 241.2,150 240.95,149.99 240.7,149.97 240.45,149.93 240.2,149.87 239.95,149.79 239.7,149.69 239.45,149.57 239.2,149.43 238.95,149.26 238.7,149.06 238.45,148.82 238.2,148.53 237.95,148.17 237.7,147.68 237.45,146.81 237.2,145.42 236.95,145.99 236.7,146.4 236.45,146.71 236.2,146.97 235.95,147.19 235.7,147.37 235.45,147.52 235.2,147.65 234.95,147.75 234.7,147.84 234.45,147.9 234.2,147.95 233.95,147.98 233.7,148 233.45,148 233.2,148 232.95,148 232.7,148 232.45,148 232.2,148 231.95,148 231.7,147.98 231.45,147.94 231.2,147.89 230.95,147.82 230.7,147.73 230.45,147.62 230.2,147.49 229.95,147.33 229.7,147.15 229.45,146.92 229.2,146.66 228.95,146.33 228.7,145.9 228.45,145.26 228.2,145.07 227.95,145.79 227.7,146.25 227.45,146.6 227.2,146.87 226.95,147.1 226.7,147.3 226.45,147.46 226.2,147.6 225.95,147.71 225.7,147.81 225.45,147.88 225.2,147.93 224.95,147.97 224.7,147.99 224.45,148 224.2,147.99 223.95,147.97 223.7,147.93 223.45,147.88 223.2,147.81 222.95,147.71 222.7,147.6 222.45,147.46 222.2,152.07 221.95,152.79 221.7,153.25 221.45,153.6 221.2,153.87 220.95,154.1 220.7,154.3 220.45,154.46 220.2,154.6 219.95,154.71 219.7,154.81 219.45,154.88 219.2,154.93 218.95,154.97 218.7,154.99 218.45,155 218.2,154.99 217.95,154.96 217.7,154.91 217.45,154.85 217.2,154.77 216.95,154.67 216.7,154.55 216.45,154.4 216.2,154.22 215.95,154.02 215.7,153.77 215.45,153.47 215.2,153.08 214.95,152.56 214.7,143.37 214.45,143.52 214.2,143.65 213.95,143.75 213.7,143.84 213.45,143.9 213.2,143.95 212.95,143.98 212.7,144 212.45,144 212.2,144 211.95,144 211.7,144 211.45,143.98 211.2,143.95 210.95,143.9 210.7,143.84 210.45,143.75 210.2,147.42 209.95,147.99 209.7,148.4 209.45,148.71 209.2,148.97 208.95,149.19 208.7,149.37 208.45,149.52 208.2,149.65 207.95,149.75 207.7,149.84 207.45,149.9 207.2,149.95 206.95,149.98 206.7,150 206.45,150 206.2,149.98 205.95,149.94 205.7,149.89 205.45,149.82 205.2,149.73 204.95,160.56 204.7,161.08 204.45,161.47 204.2,161.77 203.95,162.02 203.7,162.22 203.45,162.4 203.2,162.55 202.95,162.67 202.7,162.77 202.45,162.85 202.2,162.91 201.95,162.96 201.7,162.99 201.45,163 201.2,163 200.95,163 200.7,163 200.45,163 200.2,162.98 199.95,162.94 199.7,162.89 199.45,162.82 199.2,162.73 198.95,162.62 198.7,162.49 198.45,162.33 198.2,162.15 197.95,161.92 197.7,161.66 197.45,161.33 197.2,160.9 196.95,160.26 196.7,159.77 196.45,159.85 196.2,159.91 195.95,159.96 195.7,159.99 195.45,160 195.2,159.99 194.95,159.97 194.7,159.93 194.45,159.88 194.2,159.81 193.95,159.71 193.7,159.6 193.45,159.46 193.2,159.43 192.95,159.57 192.7,159.69 192.45,159.79 192.2,159.87 191.95,159.93 191.7,159.97 191.45,159.99 191.2,160 190.95,159.99 190.7,159.97 190.45,159.93 190.2,159.87 189.95,159.79 189.7,159.69 189.45,159.57 189.2,159.43 188.95,159.26 188.7,159.06 188.45,158.82 188.2,158.87 187.95,158.97 187.7,159.05 187.45,159.11 187.2,159.16 186.95,159.19 186.7,159.2 186.45,159.19 186.2,159.17 185.95,159.13 185.7,159.08 185.45,159.01 185.2,158.91 184.95,158.8 184.7,158.66 184.45,158.5 184.2,158.3 183.95,158.07 183.7,157.8 183.45,157.45 183.2,157.55 182.95,157.67 182.7,157.77 182.45,157.85 182.2,157.91 181.95,157.96 181.7,157.99 181.45,158 181.2,157.99 180.95,157.97 180.7,157.93 180.45,157.88 180.2,157.81 179.95,157.71 179.7,157.6 179.45,157.46 179.2,157.3 178.95,157.1 178.7,156.87 178.45,159.07 178.2,159.79 177.95,160.25 177.7,160.6 177.45,160.87 177.2,161.1 176.95,161.3 176.7,161.46 176.45,161.6 176.2,161.71 175.95,161.81 175.7,161.88 175.45,161.93 175.2,161.97 174.95,161.99 174.7,162 174.45,161.99 174.2,161.96 173.95,161.91 173.7,161.85 173.45,161.77 173.2,161.67 172.95,161.55 172.7,161.4 172.45,161.22 172.2,161.02 171.95,160.77 171.7,160.47 171.45,160.08 171.2,159.56 170.95,153.33 170.7,153.66 170.45,153.92 170.2,154.15 169.95,154.33 169.7,154.49 169.45,154.62 169.2,154.73 168.95,154.82 168.7,154.89 168.45,154.94 168.2,154.98 167.95,155 167.7,155 167.45,155 167.2,155 166.95,155 166.7,155 166.45,155 166.2,155 165.95,155 165.7,155 165.45,155 165.2,155 164.95,155 164.7,155 164.45,154.98 164.2,154.95 163.95,154.9 163.7,154.84 163.45,154.75 163.2,154.65 162.95,154.52 162.7,154.37 162.45,154.19 162.2,154.65 161.95,155 161.7,155.27 161.45,155.5 161.2,155.7 160.95,155.86 160.7,156 160.45,156.11 160.2,156.21 159.95,156.28 159.7,156.33 159.45,156.37 159.2,156.39 158.95,156.4 158.7,156.39 158.45,156.36 158.2,156.31 157.95,156.25 157.7,156.17 157.45,156.07 157.2,164.07 156.95,164.79 156.7,165.25 156.45,165.6 156.2,165.87 155.95,166.1 155.7,166.3 155.45,166.46 155.2,166.6 154.95,166.71 154.7,166.81 154.45,166.88 154.2,166.93 153.95,166.97 153.7,166.99 153.45,167 153.2,166.99 152.95,166.96 152.7,166.91 152.45,166.85 152.2,166.77 151.95,166.67 151.7,166.55 151.45,166.4 151.2,166.22 150.95,166.02 150.7,165.77 150.45,165.47 150.2,165.08 149.95,164.56 149.7,161.91 149.45,161.96 149.2,161.99 148.95,162 148.7,161.99 148.45,161.97 148.2,161.93 147.95,161.88 147.7,163.07 147.45,163.79 147.2,164.25 146.95,164.6 146.7,164.87 146.45,165.1 146.2,165.3 145.95,165.46 145.7,165.6 145.45,165.71 145.2,165.81 144.95,165.88 144.7,165.93 144.45,165.97 144.2,165.99 143.95,166 143.7,165.99 143.45,165.97 143.2,165.93 142.95,165.88 142.7,165.81 142.45,165.71 142.2,165.6 141.95,165.46 141.7,165.3 141.45,165.1 141.2,164.87 140.95,164.6 140.7,164.25 140.45,163.79 140.2,163.07 139.95,158.46 139.7,158.6 139.45,158.71 139.2,158.81 138.95,158.88 138.7,158.93 138.45,158.97 138.2,158.99 137.95,159 137.7,158.99 137.45,158.96 137.2,158.91 136.95,158.85 136.7,158.77 136.45,158.67 136.2,158.55 135.95,158.4 135.7,158.22 135.45,158.02 135.2,157.77 134.95,157.47 134.7,157.08 134.45,156.56 134.2,156.24 133.95,156.3 133.7,156.35 133.45,156.38 133.2,156.4 132.95,156.4 132.7,156.38 132.45,156.34 132.2,156.29 131.95,156.22 131.7,156.13 131.45,156.02 131.2,155.89 130.95,155.73 130.7,155.55 130.45,155.32 130.2,157.07 129.95,157.79 129.7,158.25 129.45,158.6 129.2,158.87 128.95,159.1 128.7,159.3 128.45,159.46 128.2,159.6 127.95,159.71 127.7,159.81 127.45,159.88 127.2,159.93 126.95,159.97 126.7,159.99 126.45,160 126.2,160 125.95,160 125.7,160 125.45,160 125.2,160 124.95,160 124.7,160 124.45,160 124.2,160 123.95,160 123.7,160 123.45,160 123.2,159.98 122.95,159.94 122.7,159.89 122.45,159.82 122.2,159.73 121.95,159.62 121.7,159.49 121.45,159.33 121.2,159.15 120.95,158.92 120.7,158.66 120.45,158.33 120.2,157.9 119.95,157.26 119.7,149.87 119.45,150.1 119.2,150.3 118.95,150.46 118.7,150.6 118.45,150.71 118.2,150.81 117.95,150.88 117.7,150.93 117.45,150.97 117.2,150.99 116.95,151 116.7,150.99 116.45,150.96 116.2,150.91 115.95,150.85 115.7,150.77 115.45,150.67 115.2,150.55 114.95,150.4 114.7,150.22 114.45,150.02 114.2,152.2 113.95,153.56 113.7,154.08 113.45,154.47 113.2,154.77 112.95,155.02 112.7,155.22 112.45,155.4 112.2,155.55 111.95,155.67 111.7,155.77 111.45,155.85 111.2,155.91 110.95,155.96 110.7,155.99 110.45,156 110.2,156 109.95,156 109.7,156 109.45,156 109.2,156 108.95,156 108.7,155.99 108.45,155.96 108.2,155.91 107.95,155.85 107.7,155.77 107.45,155.67 107.2,155.55 106.95,155.4 106.7,155.22 106.45,155.02 106.2,154.77 105.95,154.47 105.7,154.08 105.45,153.56 105.2,152.2 104.95,149.56 104.7,150.08 104.45,150.47 104.2,150.77 103.95,151.02 103.7,151.22 103.45,151.4 103.2,151.55 102.95,151.67 102.7,151.77 102.45,151.85 102.2,151.91 101.95,151.96 101.7,151.99 101.45,152 101.2,152 100.95,152 100.7,152 100.45,152 100.2,152 99.95,152 99.7,152 99.45,152 99.2,152 98.95,152 98.7,151.98 98.45,151.94 98.2,151.89 97.95,151.82 97.7,151.73 97.45,151.62 97.2,151.49 96.95,151.33 96.7,151.15 96.45,150.92 96.2,150.66 95.95,150.66 95.7,150.92 95.45,151.15 95.2,151.33 94.95,151.49 94.7,151.62 94.45,151.73 94.2,151.82 93.95,151.89 93.7,151.94 93.45,151.98 93.2,152 92.95,152 92.7,151.98 92.45,151.95 92.2,151.9 91.95,151.84 91.7,151.75 91.45,151.65 91.2,151.52 90.95,151.37 90.7,163.07 90.45,163.79 90.2,164.25 89.95,164.6 89.7,164.87 89.45,165.1 89.2,165.3 88.95,165.46 88.7,165.6 88.45,165.71 88.2,165.81 87.95,165.88 87.7,165.93 87.45,165.97 87.2,165.99 86.95,166 86.7,166 86.45,166 86.2,166 85.95,166 85.7,166 85.45,166 85.2,165.99 84.95,165.97 84.7,165.93 84.45,165.88 84.2,165.81 83.95,165.71 83.7,165.6 83.45,165.46 83.2,165.3 82.95,165.1 82.7,164.87 82.45,164.6 82.2,164.25 81.95,163.79 81.7,163.07 81.45,150.73 81.2,150.82 80.95,150.89 80.7,150.94 80.45,150.98 80.2,151 79.95,151 79.7,150.98 79.45,150.95 79.2,150.9 78.95,150.84 78.7,150.75 78.45,150.65 78.2,150.52 77.95,150.37 77.7,150.19 77.45,149.97 77.2,149.71 76.95,149.4 76.7,148.99 76.45,148.42 76.2,145.77 75.95,145.67 75.7,145.55 75.45,145.4 75.2,145.22 74.95,145.02 74.7,144.77 74.45,144.47 74.2,157.42 73.95,157.99 73.7,158.4 73.45,158.71 73.2,158.97 72.95,159.19 72.7,159.37 72.45,159.52 72.2,159.65 71.95,159.75 71.7,159.84 71.45,159.9 71.2,159.95 70.95,159.98 70.7,160 70.45,160 70.2,160 69.95,160 69.7,160 69.45,159.98 69.2,159.95 68.95,159.9 68.7,159.84 68.45,159.75 68.2,159.65 67.95,159.52 67.7,159.37 67.45,159.19 67.2,158.97 66.95,158.71 66.7,158.4 66.45,157.99 66.2,157.42 65.95,156.37 65.7,156.52 65.45,156.65 65.2,156.75 64.95,156.84 64.7,156.9 64.45,156.95 64.2,156.98 63.95,157 63.7,157 63.45,156.98 63.2,156.94 62.95,156.89 62.7,156.82 62.45,156.73 62.2,156.62 61.95,156.49 61.7,156.33 61.45,156.15 61.2,156 60.95,156 60.7,155.98 60.45,155.94 60.2,155.89 59.95,155.82 59.7,155.73 59.45,155.62 59.2,155.49 58.95,155.33 58.7,155.15 58.45,154.92 58.2,154.66 57.95,154.33 57.7,153.9 57.45,153.26 57.2,149.02 56.95,148.77 56.7,148.47 56.45,148.08 56.2,147.56 55.95,146.2 55.7,139.02 55.45,138.77 55.2,138.47 54.95,138.08 54.7,137.56"/>
<g fill="none" stroke="#0072BD" stroke-width="0.9"><circle cx="58.5" cy="86.8" r="3.8"/><circle cx="58.7" cy="87.48" r="3.8"/><circle cx="58.9" cy="87.64" r="3.8"/><circle cx="59.1" cy="88.19" r="3.8"/><circle cx="59.3" cy="86.8" r="3.8"/><circle cx="66.9" cy="108.5" r="3.8"/><circle cx="67.2" cy="109.2" r="3.8"/><circle cx="67.5" cy="109.26" r="3.8"/><circle cx="67.8" cy="109.38" r="3.8"/><circle cx="68.1" cy="108.5" r="3.8"/><circle cx="73.2" cy="119" r="3.8"/><circle cx="78.3" cy="107.8" r="3.8"/><circle cx="78.62" cy="108.08" r="3.8"/><circle cx="78.95" cy="108.57" r="3.8"/><circle cx="79.28" cy="108.74" r="3.8"/><circle cx="79.6" cy="107.8" r="3.8"/><circle cx="85.85" cy="126" r="3.8"/><circle cx="90.85" cy="133" r="3.8"/><circle cx="97.2" cy="88.2" r="3.8"/><circle cx="97.4" cy="89.39" r="3.8"/><circle cx="97.6" cy="88.34" r="3.8"/><circle cx="97.8" cy="88.66" r="3.8"/><circle cx="98" cy="88.2" r="3.8"/><circle cx="105.6" cy="105" r="3.8"/><circle cx="105.92" cy="105.14" r="3.8"/><circle cx="106.25" cy="106.21" r="3.8"/><circle cx="106.58" cy="106.04" r="3.8"/><circle cx="106.9" cy="105" r="3.8"/><circle cx="111.75" cy="127.4" r="3.8"/><circle cx="115.6" cy="135.8" r="3.8"/><circle cx="121.2" cy="131.6" r="3.8"/><circle cx="125.4" cy="132.3" r="3.8"/><circle cx="128.2" cy="118.8" r="3.8"/><circle cx="133.4" cy="102.9" r="3.8"/><circle cx="133.5" cy="102.96" r="3.8"/><circle cx="133.6" cy="104.37" r="3.8"/><circle cx="133.7" cy="104.35" r="3.8"/><circle cx="133.8" cy="102.9" r="3.8"/><circle cx="141.4" cy="100.5" r="3.8"/><circle cx="141.43" cy="101.48" r="3.8"/><circle cx="141.47" cy="101.42" r="3.8"/><circle cx="141.5" cy="100.5" r="3.8"/><circle cx="149.1" cy="102.2" r="3.8"/><circle cx="149.13" cy="102.44" r="3.8"/><circle cx="149.17" cy="102.22" r="3.8"/><circle cx="149.2" cy="102.2" r="3.8"/><circle cx="156.8" cy="103.9" r="3.8"/><circle cx="156.93" cy="104.69" r="3.8"/><circle cx="157.05" cy="103.99" r="3.8"/><circle cx="157.18" cy="104.19" r="3.8"/><circle cx="157.3" cy="103.9" r="3.8"/><circle cx="163.9" cy="109.2" r="3.8"/><circle cx="168.8" cy="122.5" r="3.8"/><circle cx="174.7" cy="126.7" r="3.8"/><circle cx="179.25" cy="115.8" r="3.8"/><circle cx="183.8" cy="105" r="3.8"/><circle cx="184" cy="105.36" r="3.8"/><circle cx="184.2" cy="105.05" r="3.8"/><circle cx="184.4" cy="105.7" r="3.8"/><circle cx="184.6" cy="105" r="3.8"/><circle cx="191.2" cy="113.4" r="3.8"/><circle cx="196.45" cy="112.7" r="3.8"/><circle cx="202.7" cy="104.7" r="3.8"/><circle cx="202.73" cy="105.36" r="3.8"/><circle cx="202.77" cy="105.96" r="3.8"/><circle cx="202.8" cy="104.7" r="3.8"/><circle cx="209.4" cy="109.2" r="3.8"/><circle cx="216" cy="107.1" r="3.8"/><circle cx="216.03" cy="107.88" r="3.8"/><circle cx="216.07" cy="108.06" r="3.8"/><circle cx="216.1" cy="107.1" r="3.8"/><circle cx="222" cy="116.9" r="3.8"/><circle cx="227.25" cy="115.5" r="3.8"/><circle cx="231.8" cy="114.8" r="3.8"/><circle cx="237" cy="99.4" r="3.8"/><circle cx="237.03" cy="100.15" r="3.8"/><circle cx="237.07" cy="100.39" r="3.8"/><circle cx="237.1" cy="99.4" r="3.8"/><circle cx="242.65" cy="112.7" r="3.8"/><circle cx="248.2" cy="108.8" r="3.8"/><circle cx="248.23" cy="109.49" r="3.8"/><circle cx="248.27" cy="109.22" r="3.8"/><circle cx="248.3" cy="108.8" r="3.8"/><circle cx="255.6" cy="114.8" r="3.8"/><circle cx="260.5" cy="118.3" r="3.8"/><circle cx="265.05" cy="115.5" r="3.8"/><circle cx="270.65" cy="117.6" r="3.8"/><circle cx="276.9" cy="100.5" r="3.8"/><circle cx="276.93" cy="102" r="3.8"/><circle cx="276.97" cy="101.99" r="3.8"/><circle cx="277" cy="100.5" r="3.8"/><circle cx="283.95" cy="114.8" r="3.8"/><circle cx="290.9" cy="104.3" r="3.8"/><circle cx="291.1" cy="105.56" r="3.8"/><circle cx="291.3" cy="105.36" r="3.8"/><circle cx="291.5" cy="104.77" r="3.8"/><circle cx="291.7" cy="104.3" r="3.8"/><circle cx="297.25" cy="112.7" r="3.8"/><circle cx="302.8" cy="106.4" r="3.8"/><circle cx="303" cy="106.74" r="3.8"/><circle cx="303.2" cy="106.83" r="3.8"/><circle cx="303.4" cy="106.51" r="3.8"/><circle cx="303.6" cy="106.4" r="3.8"/><circle cx="309.85" cy="124.6" r="3.8"/><circle cx="316.1" cy="121.1" r="3.8"/><circle cx="316.48" cy="122.25" r="3.8"/><circle cx="316.85" cy="121.7" r="3.8"/><circle cx="317.23" cy="122.37" r="3.8"/><circle cx="317.6" cy="121.1" r="3.8"/><circle cx="323.85" cy="129.5" r="3.8"/><circle cx="330.1" cy="136.3" r="3.8"/><circle cx="330.13" cy="136.88" r="3.8"/><circle cx="330.17" cy="137.74" r="3.8"/><circle cx="330.2" cy="136.3" r="3.8"/><circle cx="337.15" cy="139.3" r="3.8"/><circle cx="344.1" cy="136.5" r="3.8"/><circle cx="344.13" cy="137.77" r="3.8"/><circle cx="344.17" cy="136.5" r="3.8"/><circle cx="344.2" cy="136.5" r="3.8"/><circle cx="351.15" cy="142.8" r="3.8"/><circle cx="357.1" cy="136.5" r="3.8"/><circle cx="363.7" cy="127.1" r="3.8"/><circle cx="363.73" cy="127.41" r="3.8"/><circle cx="363.77" cy="128.47" r="3.8"/><circle cx="363.8" cy="127.1" r="3.8"/><circle cx="368.65" cy="136.8" r="3.8"/><circle cx="373.5" cy="130.5" r="3.8"/><circle cx="373.53" cy="131.2" r="3.8"/><circle cx="373.57" cy="131.97" r="3.8"/><circle cx="373.6" cy="130.5" r="3.8"/><circle cx="380.55" cy="133.7" r="3.8"/><circle cx="386.15" cy="139.3" r="3.8"/><circle cx="392.4" cy="133.7" r="3.8"/><circle cx="392.43" cy="134.3" r="3.8"/><circle cx="392.47" cy="133.81" r="3.8"/><circle cx="392.5" cy="133.7" r="3.8"/><circle cx="400.1" cy="131.9" r="3.8"/><circle cx="400.13" cy="132.84" r="3.8"/><circle cx="400.17" cy="133.07" r="3.8"/><circle cx="400.2" cy="131.9" r="3.8"/><circle cx="405.5" cy="134.8" r="3.8"/><circle cx="410.8" cy="132.5" r="3.8"/><circle cx="411" cy="132.9" r="3.8"/><circle cx="411.2" cy="132.63" r="3.8"/><circle cx="411.4" cy="133" r="3.8"/><circle cx="411.6" cy="132.5" r="3.8"/><circle cx="419.2" cy="119.6" r="3.8"/><circle cx="419.4" cy="121.05" r="3.8"/><circle cx="419.6" cy="120.74" r="3.8"/><circle cx="419.8" cy="119.78" r="3.8"/><circle cx="420" cy="119.6" r="3.8"/><circle cx="425.7" cy="139.3" r="3.8"/><circle cx="431.4" cy="111.2" r="3.8"/><circle cx="431.58" cy="111.57" r="3.8"/><circle cx="431.75" cy="111.35" r="3.8"/><circle cx="431.93" cy="111.29" r="3.8"/><circle cx="432.1" cy="111.2" r="3.8"/><circle cx="439.35" cy="117.3" r="3.8"/><circle cx="443.9" cy="128.7" r="3.8"/><circle cx="448.8" cy="134.3" r="3.8"/><circle cx="449.2" cy="135.5" r="3.8"/><circle cx="449.6" cy="134.57" r="3.8"/><circle cx="450" cy="135.14" r="3.8"/><circle cx="450.4" cy="134.3" r="3.8"/><circle cx="458" cy="106.2" r="3.8"/><circle cx="458.18" cy="106.87" r="3.8"/><circle cx="458.35" cy="106.49" r="3.8"/><circle cx="458.53" cy="107.3" r="3.8"/><circle cx="458.7" cy="106.2" r="3.8"/><circle cx="465.15" cy="110.5" r="3.8"/><circle cx="470.45" cy="121.1" r="3.8"/><circle cx="475.75" cy="143.8" r="3.8"/></g>
<g fill="none" stroke="#0072BD" stroke-width="0.8"><circle cx="63.92" cy="154.84" r="3.8"/><circle cx="63.92" cy="155.24" r="3.8"/><circle cx="61.1" cy="154.2" r="3.8"/><circle cx="65.12" cy="157.76" r="3.8"/><circle cx="65.12" cy="159.25" r="3.8"/><circle cx="65.12" cy="159.48" r="3.8"/><circle cx="63.85" cy="159.8" r="3.8"/><circle cx="69.75" cy="162.76" r="3.8"/><circle cx="70.75" cy="164.49" r="3.8"/><circle cx="69.58" cy="166.93" r="3.8"/><circle cx="69.75" cy="161.81" r="3.8"/><circle cx="70.63" cy="162.3" r="3.8"/><circle cx="69.88" cy="160.51" r="3.8"/><circle cx="69.56" cy="164.08" r="3.8"/><circle cx="69.8" cy="164.21" r="3.8"/><circle cx="70" cy="163.17" r="3.8"/><circle cx="70.92" cy="163.39" r="3.8"/><circle cx="70.2" cy="167" r="3.8"/><circle cx="86.38" cy="171.03" r="3.8"/><circle cx="85.45" cy="166.89" r="3.8"/><circle cx="87.16" cy="170.74" r="3.8"/><circle cx="85.61" cy="167.1" r="3.8"/><circle cx="86.77" cy="171.45" r="3.8"/><circle cx="85.48" cy="171.51" r="3.8"/><circle cx="87.1" cy="169.5" r="3.8"/><circle cx="86.01" cy="166.6" r="3.8"/><circle cx="85.11" cy="171.58" r="3.8"/><circle cx="86.2" cy="171.8" r="3.8"/><circle cx="99.45" cy="156.37" r="3.8"/><circle cx="99.51" cy="157.11" r="3.8"/><circle cx="100.55" cy="153.82" r="3.8"/><circle cx="99.26" cy="156.47" r="3.8"/><circle cx="98.93" cy="153.42" r="3.8"/><circle cx="100.43" cy="157.28" r="3.8"/><circle cx="100.6" cy="153.74" r="3.8"/><circle cx="101.53" cy="153.26" r="3.8"/><circle cx="98.77" cy="153.67" r="3.8"/><circle cx="100.08" cy="152.37" r="3.8"/><circle cx="99.26" cy="154.29" r="3.8"/><circle cx="100.25" cy="158.2" r="3.8"/><circle cx="109.86" cy="156.95" r="3.8"/><circle cx="109.4" cy="162.41" r="3.8"/><circle cx="110.74" cy="160.73" r="3.8"/><circle cx="110.11" cy="160.21" r="3.8"/><circle cx="108.92" cy="156.25" r="3.8"/><circle cx="108.66" cy="162.55" r="3.8"/><circle cx="110.13" cy="162.93" r="3.8"/><circle cx="108.67" cy="160.58" r="3.8"/><circle cx="109.66" cy="161.26" r="3.8"/><circle cx="109.31" cy="163.2" r="3.8"/><circle cx="108.78" cy="159.93" r="3.8"/><circle cx="109.7" cy="163.2" r="3.8"/><circle cx="125.92" cy="161.53" r="3.8"/><circle cx="125.92" cy="161.2" r="3.8"/><circle cx="126.12" cy="161.56" r="3.8"/><circle cx="124.51" cy="161.16" r="3.8"/><circle cx="126.52" cy="161.48" r="3.8"/><circle cx="124.75" cy="161.34" r="3.8"/><circle cx="125.05" cy="161.7" r="3.8"/><circle cx="139.32" cy="160.95" r="3.8"/><circle cx="139.32" cy="160.3" r="3.8"/><circle cx="139.32" cy="161.07" r="3.8"/><circle cx="138" cy="162.4" r="3.8"/><circle cx="143.59" cy="176.55" r="3.8"/><circle cx="144.37" cy="180.52" r="3.8"/><circle cx="144.15" cy="172.41" r="3.8"/><circle cx="144.15" cy="175.59" r="3.8"/><circle cx="143.9" cy="179.83" r="3.8"/><circle cx="143.59" cy="178.38" r="3.8"/><circle cx="143.55" cy="175.92" r="3.8"/><circle cx="143.93" cy="169.8" r="3.8"/><circle cx="144.12" cy="174.2" r="3.8"/><circle cx="144.05" cy="181.19" r="3.8"/><circle cx="143.74" cy="166.19" r="3.8"/><circle cx="143.78" cy="177.19" r="3.8"/><circle cx="143.69" cy="168.8" r="3.8"/><circle cx="144.3" cy="176.89" r="3.8"/><circle cx="143.9" cy="180.71" r="3.8"/><circle cx="143.8" cy="176.99" r="3.8"/><circle cx="143.69" cy="173.11" r="3.8"/><circle cx="143.95" cy="182.5" r="3.8"/><circle cx="153.55" cy="170.47" r="3.8"/><circle cx="153.56" cy="168.46" r="3.8"/><circle cx="153.51" cy="168.2" r="3.8"/><circle cx="153.44" cy="168.89" r="3.8"/><circle cx="153.55" cy="170.23" r="3.8"/><circle cx="153.5" cy="170.8" r="3.8"/><circle cx="167.09" cy="162.03" r="3.8"/><circle cx="165.46" cy="156.25" r="3.8"/><circle cx="166.11" cy="157.04" r="3.8"/><circle cx="165.22" cy="158.06" r="3.8"/><circle cx="166.77" cy="158.65" r="3.8"/><circle cx="165.61" cy="161.21" r="3.8"/><circle cx="168.11" cy="158.35" r="3.8"/><circle cx="164.7" cy="155.23" r="3.8"/><circle cx="167.7" cy="155.31" r="3.8"/><circle cx="167.08" cy="159.22" r="3.8"/><circle cx="165.58" cy="160.86" r="3.8"/><circle cx="164.49" cy="156.01" r="3.8"/><circle cx="166.13" cy="155.18" r="3.8"/><circle cx="166.3" cy="162.4" r="3.8"/><circle cx="175.02" cy="162.93" r="3.8"/><circle cx="175.02" cy="162.18" r="3.8"/><circle cx="175.02" cy="163.74" r="3.8"/><circle cx="175.02" cy="164.55" r="3.8"/><circle cx="175.02" cy="165.74" r="3.8"/><circle cx="174.75" cy="165.9" r="3.8"/><circle cx="181.43" cy="159.24" r="3.8"/><circle cx="181.4" cy="159.11" r="3.8"/><circle cx="181.32" cy="160.93" r="3.8"/><circle cx="181.43" cy="159.11" r="3.8"/><circle cx="181.36" cy="160.14" r="3.8"/><circle cx="181.43" cy="161.23" r="3.8"/><circle cx="181.42" cy="162.69" r="3.8"/><circle cx="181.4" cy="164.2" r="3.8"/><circle cx="191.82" cy="166.34" r="3.8"/><circle cx="191.82" cy="160.7" r="3.8"/><circle cx="191.82" cy="165.78" r="3.8"/><circle cx="191.82" cy="163.63" r="3.8"/><circle cx="191.82" cy="167.28" r="3.8"/><circle cx="191.82" cy="164.55" r="3.8"/><circle cx="191.82" cy="166.37" r="3.8"/><circle cx="191.2" cy="168" r="3.8"/><circle cx="197.42" cy="163.71" r="3.8"/><circle cx="197.42" cy="161.64" r="3.8"/><circle cx="197.42" cy="166.55" r="3.8"/><circle cx="195.4" cy="168" r="3.8"/><circle cx="201.22" cy="166.01" r="3.8"/><circle cx="200.55" cy="166.78" r="3.8"/><circle cx="201.75" cy="167.1" r="3.8"/><circle cx="201.06" cy="166.32" r="3.8"/><circle cx="200.72" cy="166.82" r="3.8"/><circle cx="201.56" cy="164.46" r="3.8"/><circle cx="200.35" cy="164.85" r="3.8"/><circle cx="201" cy="167.2" r="3.8"/><circle cx="208.62" cy="151.69" r="3.8"/><circle cx="208.62" cy="150.06" r="3.8"/><circle cx="206.6" cy="152.2" r="3.8"/><circle cx="212.68" cy="145.45" r="3.8"/><circle cx="212.67" cy="147.91" r="3.8"/><circle cx="211.94" cy="161.81" r="3.8"/><circle cx="211.64" cy="147.36" r="3.8"/><circle cx="212.23" cy="160.35" r="3.8"/><circle cx="212.73" cy="159.58" r="3.8"/><circle cx="212.9" cy="155.13" r="3.8"/><circle cx="212.9" cy="145.94" r="3.8"/><circle cx="211.77" cy="155.9" r="3.8"/><circle cx="211.87" cy="160.47" r="3.8"/><circle cx="212.42" cy="155.81" r="3.8"/><circle cx="212.74" cy="156.66" r="3.8"/><circle cx="211.91" cy="152.62" r="3.8"/><circle cx="212.74" cy="164.35" r="3.8"/><circle cx="211.74" cy="163.23" r="3.8"/><circle cx="212.93" cy="155.85" r="3.8"/><circle cx="212.31" cy="148.54" r="3.8"/><circle cx="212.26" cy="155.37" r="3.8"/><circle cx="212.36" cy="144.63" r="3.8"/><circle cx="212.93" cy="155.66" r="3.8"/><circle cx="212.04" cy="162.1" r="3.8"/><circle cx="212.3" cy="155.1" r="3.8"/><circle cx="212.5" cy="145.49" r="3.8"/><circle cx="212.26" cy="153.35" r="3.8"/><circle cx="212.2" cy="166.6" r="3.8"/><circle cx="219.82" cy="156.66" r="3.8"/><circle cx="219.82" cy="155.85" r="3.8"/><circle cx="218.5" cy="156.8" r="3.8"/><circle cx="224.13" cy="153.94" r="3.8"/><circle cx="224.72" cy="160.34" r="3.8"/><circle cx="224.43" cy="152.35" r="3.8"/><circle cx="224.18" cy="156.47" r="3.8"/><circle cx="224.82" cy="149.77" r="3.8"/><circle cx="224.69" cy="148.31" r="3.8"/><circle cx="224.19" cy="151.11" r="3.8"/><circle cx="224.61" cy="152.41" r="3.8"/><circle cx="224.33" cy="156.49" r="3.8"/><circle cx="224.11" cy="158.01" r="3.8"/><circle cx="224.13" cy="154.99" r="3.8"/><circle cx="224.24" cy="150.71" r="3.8"/><circle cx="224.48" cy="153.98" r="3.8"/><circle cx="224.34" cy="153.66" r="3.8"/><circle cx="224.45" cy="161.7" r="3.8"/><circle cx="232.92" cy="150.97" r="3.8"/><circle cx="232.18" cy="159.74" r="3.8"/><circle cx="233.16" cy="157.85" r="3.8"/><circle cx="233.64" cy="159.38" r="3.8"/><circle cx="233.66" cy="152.33" r="3.8"/><circle cx="233.39" cy="163.08" r="3.8"/><circle cx="233.76" cy="153.88" r="3.8"/><circle cx="232.43" cy="165.16" r="3.8"/><circle cx="232.21" cy="166.57" r="3.8"/><circle cx="233.73" cy="150.49" r="3.8"/><circle cx="232.26" cy="161.51" r="3.8"/><circle cx="232.31" cy="149.8" r="3.8"/><circle cx="233.6" cy="155.84" r="3.8"/><circle cx="233.51" cy="150.34" r="3.8"/><circle cx="232.63" cy="160.74" r="3.8"/><circle cx="231.76" cy="151.74" r="3.8"/><circle cx="233.26" cy="164.95" r="3.8"/><circle cx="233.91" cy="150.15" r="3.8"/><circle cx="232.86" cy="162.1" r="3.8"/><circle cx="232.86" cy="160.75" r="3.8"/><circle cx="232.15" cy="149.31" r="3.8"/><circle cx="231.96" cy="148.7" r="3.8"/><circle cx="232.85" cy="166.6" r="3.8"/><circle cx="242.45" cy="159.27" r="3.8"/><circle cx="242.5" cy="152.64" r="3.8"/><circle cx="241.37" cy="153.67" r="3.8"/><circle cx="243.31" cy="167.83" r="3.8"/><circle cx="243.56" cy="151.71" r="3.8"/><circle cx="241" cy="167.13" r="3.8"/><circle cx="242.19" cy="163.76" r="3.8"/><circle cx="241.79" cy="158.41" r="3.8"/><circle cx="242.35" cy="157.74" r="3.8"/><circle cx="242.6" cy="150.24" r="3.8"/><circle cx="242.9" cy="165.2" r="3.8"/><circle cx="241.36" cy="158.17" r="3.8"/><circle cx="243.01" cy="157.3" r="3.8"/><circle cx="241.4" cy="152.97" r="3.8"/><circle cx="242.34" cy="150.28" r="3.8"/><circle cx="243.46" cy="164.43" r="3.8"/><circle cx="242.91" cy="165.49" r="3.8"/><circle cx="242.68" cy="157.28" r="3.8"/><circle cx="242.59" cy="159.08" r="3.8"/><circle cx="243.73" cy="164.49" r="3.8"/><circle cx="241.58" cy="166.4" r="3.8"/><circle cx="243.02" cy="164" r="3.8"/><circle cx="243.23" cy="157.3" r="3.8"/><circle cx="242.3" cy="168" r="3.8"/><circle cx="253.27" cy="171.14" r="3.8"/><circle cx="252.68" cy="168.18" r="3.8"/><circle cx="252.89" cy="158.67" r="3.8"/><circle cx="252.76" cy="149.86" r="3.8"/><circle cx="251.63" cy="160.33" r="3.8"/><circle cx="250.65" cy="157.35" r="3.8"/><circle cx="252.51" cy="164.41" r="3.8"/><circle cx="251.31" cy="172.84" r="3.8"/><circle cx="252.59" cy="156.88" r="3.8"/><circle cx="252.57" cy="162.98" r="3.8"/><circle cx="252.2" cy="158.25" r="3.8"/><circle cx="253.58" cy="164.89" r="3.8"/><circle cx="252.7" cy="168.03" r="3.8"/><circle cx="253.52" cy="148.6" r="3.8"/><circle cx="252.44" cy="167.43" r="3.8"/><circle cx="251.38" cy="158.56" r="3.8"/><circle cx="250.77" cy="153.14" r="3.8"/><circle cx="251.73" cy="150.59" r="3.8"/><circle cx="251.36" cy="171.82" r="3.8"/><circle cx="252.25" cy="161.36" r="3.8"/><circle cx="253.48" cy="162.94" r="3.8"/><circle cx="253.57" cy="164.78" r="3.8"/><circle cx="253.02" cy="150" r="3.8"/><circle cx="252.39" cy="167.97" r="3.8"/><circle cx="250.75" cy="172.46" r="3.8"/><circle cx="251.09" cy="160.41" r="3.8"/><circle cx="251.12" cy="161.03" r="3.8"/><circle cx="252.43" cy="149.54" r="3.8"/><circle cx="253.42" cy="159.06" r="3.8"/><circle cx="252.18" cy="163.72" r="3.8"/><circle cx="251.7" cy="155.52" r="3.8"/><circle cx="252.56" cy="162.74" r="3.8"/><circle cx="252.1" cy="174.3" r="3.8"/><circle cx="260.47" cy="163.47" r="3.8"/><circle cx="260.47" cy="152.22" r="3.8"/><circle cx="260.46" cy="152.68" r="3.8"/><circle cx="260.45" cy="164.07" r="3.8"/><circle cx="260.48" cy="166.36" r="3.8"/><circle cx="260.54" cy="152.8" r="3.8"/><circle cx="260.58" cy="167.11" r="3.8"/><circle cx="260.43" cy="166.49" r="3.8"/><circle cx="260.49" cy="159.64" r="3.8"/><circle cx="260.58" cy="155.9" r="3.8"/><circle cx="260.5" cy="167" r="3.8"/><circle cx="260.54" cy="159.49" r="3.8"/><circle cx="260.58" cy="165.07" r="3.8"/><circle cx="260.52" cy="153.84" r="3.8"/><circle cx="260.52" cy="159.29" r="3.8"/><circle cx="260.5" cy="168" r="3.8"/><circle cx="267.42" cy="160.27" r="3.8"/><circle cx="267.42" cy="160.65" r="3.8"/><circle cx="264.7" cy="165.2" r="3.8"/><circle cx="270.44" cy="181.67" r="3.8"/><circle cx="270.49" cy="180.66" r="3.8"/><circle cx="270.95" cy="181.05" r="3.8"/><circle cx="271.67" cy="181.33" r="3.8"/><circle cx="272.47" cy="182.38" r="3.8"/><circle cx="271.51" cy="180.6" r="3.8"/><circle cx="269.24" cy="182.23" r="3.8"/><circle cx="270.65" cy="182.5" r="3.8"/><circle cx="279.99" cy="158.75" r="3.8"/><circle cx="279.63" cy="156.63" r="3.8"/><circle cx="279.91" cy="158.39" r="3.8"/><circle cx="279.83" cy="158.8" r="3.8"/><circle cx="279.97" cy="156.14" r="3.8"/><circle cx="279.53" cy="160.88" r="3.8"/><circle cx="280.11" cy="160.27" r="3.8"/><circle cx="279.35" cy="155.36" r="3.8"/><circle cx="279.75" cy="161" r="3.8"/><circle cx="287.44" cy="164.29" r="3.8"/><circle cx="287.99" cy="161.03" r="3.8"/><circle cx="287.86" cy="160.73" r="3.8"/><circle cx="287.15" cy="166.83" r="3.8"/><circle cx="287.88" cy="166.37" r="3.8"/><circle cx="287.6" cy="164.83" r="3.8"/><circle cx="287.35" cy="163.47" r="3.8"/><circle cx="288.18" cy="168.47" r="3.8"/><circle cx="287.14" cy="161.21" r="3.8"/><circle cx="288.28" cy="166.3" r="3.8"/><circle cx="288.22" cy="162.15" r="3.8"/><circle cx="287.68" cy="162.61" r="3.8"/><circle cx="287.8" cy="170.1" r="3.8"/><circle cx="295.42" cy="159.92" r="3.8"/><circle cx="295.42" cy="163.14" r="3.8"/><circle cx="295.42" cy="160.85" r="3.8"/><circle cx="293.75" cy="163.2" r="3.8"/><circle cx="299.79" cy="168.5" r="3.8"/><circle cx="299.42" cy="162.21" r="3.8"/><circle cx="299.03" cy="167.98" r="3.8"/><circle cx="299.01" cy="158.95" r="3.8"/><circle cx="299.57" cy="163.53" r="3.8"/><circle cx="299.71" cy="161.41" r="3.8"/><circle cx="299.82" cy="158.87" r="3.8"/><circle cx="299.17" cy="165.55" r="3.8"/><circle cx="299.01" cy="161.46" r="3.8"/><circle cx="299.76" cy="165.91" r="3.8"/><circle cx="299.25" cy="159.63" r="3.8"/><circle cx="299.34" cy="166.28" r="3.8"/><circle cx="299.35" cy="159.34" r="3.8"/><circle cx="299.5" cy="169.4" r="3.8"/><circle cx="309.42" cy="169.33" r="3.8"/><circle cx="309.42" cy="172.14" r="3.8"/><circle cx="309.42" cy="168.33" r="3.8"/><circle cx="309.42" cy="167.32" r="3.8"/><circle cx="307.65" cy="172.6" r="3.8"/><circle cx="313.37" cy="178" r="3.8"/><circle cx="314.65" cy="181.71" r="3.8"/><circle cx="313.23" cy="177.71" r="3.8"/><circle cx="313.47" cy="177.72" r="3.8"/><circle cx="313.53" cy="177.91" r="3.8"/><circle cx="313.12" cy="179.23" r="3.8"/><circle cx="314.36" cy="179.05" r="3.8"/><circle cx="314.44" cy="179.22" r="3.8"/><circle cx="313.08" cy="180.69" r="3.8"/><circle cx="314.53" cy="177.11" r="3.8"/><circle cx="312.77" cy="178.87" r="3.8"/><circle cx="313.75" cy="182.5" r="3.8"/><circle cx="327.86" cy="179.69" r="3.8"/><circle cx="330.38" cy="180.23" r="3.8"/><circle cx="329.41" cy="176.42" r="3.8"/><circle cx="327.88" cy="181.12" r="3.8"/><circle cx="325.12" cy="176.53" r="3.8"/><circle cx="329.01" cy="181.84" r="3.8"/><circle cx="325.12" cy="180.12" r="3.8"/><circle cx="325.48" cy="180.85" r="3.8"/><circle cx="328.49" cy="177.6" r="3.8"/><circle cx="325.93" cy="180.97" r="3.8"/><circle cx="327.73" cy="180.97" r="3.8"/><circle cx="326.97" cy="178.2" r="3.8"/><circle cx="330.39" cy="180.37" r="3.8"/><circle cx="327.56" cy="179.49" r="3.8"/><circle cx="327.6" cy="182.5" r="3.8"/><circle cx="382.95" cy="180.31" r="3.8"/><circle cx="395.21" cy="178.08" r="3.8"/><circle cx="389.6" cy="180" r="3.8"/><circle cx="391.33" cy="181.04" r="3.8"/><circle cx="390.08" cy="181.66" r="3.8"/><circle cx="397.91" cy="179.8" r="3.8"/><circle cx="370.51" cy="180.33" r="3.8"/><circle cx="388.09" cy="178.16" r="3.8"/><circle cx="363.98" cy="176.1" r="3.8"/><circle cx="384.24" cy="182.43" r="3.8"/><circle cx="361.14" cy="176.26" r="3.8"/><circle cx="350.33" cy="178.19" r="3.8"/><circle cx="355.86" cy="182.27" r="3.8"/><circle cx="341.16" cy="177.31" r="3.8"/><circle cx="344.67" cy="179.86" r="3.8"/><circle cx="386.43" cy="176.35" r="3.8"/><circle cx="341.36" cy="178.44" r="3.8"/><circle cx="374.31" cy="181.82" r="3.8"/><circle cx="339.72" cy="175.82" r="3.8"/><circle cx="349.08" cy="176.63" r="3.8"/><circle cx="352.29" cy="180.38" r="3.8"/><circle cx="374.99" cy="176.68" r="3.8"/><circle cx="349.1" cy="177.11" r="3.8"/><circle cx="348.32" cy="180.68" r="3.8"/><circle cx="357.11" cy="179.11" r="3.8"/><circle cx="389.03" cy="178.6" r="3.8"/><circle cx="353.87" cy="181.66" r="3.8"/><circle cx="395.16" cy="177.57" r="3.8"/><circle cx="371.99" cy="182.18" r="3.8"/><circle cx="367.9" cy="176.66" r="3.8"/><circle cx="340.56" cy="182.11" r="3.8"/><circle cx="388.04" cy="177.89" r="3.8"/><circle cx="370.74" cy="178.87" r="3.8"/><circle cx="354.76" cy="182.43" r="3.8"/><circle cx="378.95" cy="176.78" r="3.8"/><circle cx="338.11" cy="178.54" r="3.8"/><circle cx="360.89" cy="180.98" r="3.8"/><circle cx="382.47" cy="179.55" r="3.8"/><circle cx="347.35" cy="176.18" r="3.8"/><circle cx="357.75" cy="176.95" r="3.8"/><circle cx="392.32" cy="178.87" r="3.8"/><circle cx="377.65" cy="182.45" r="3.8"/><circle cx="354.25" cy="179.01" r="3.8"/><circle cx="346.94" cy="180.78" r="3.8"/><circle cx="337.51" cy="181.16" r="3.8"/><circle cx="390.86" cy="181.17" r="3.8"/><circle cx="342.63" cy="177.02" r="3.8"/><circle cx="382.68" cy="175.73" r="3.8"/><circle cx="367.74" cy="178.51" r="3.8"/><circle cx="397.77" cy="179.4" r="3.8"/><circle cx="391.57" cy="177.28" r="3.8"/><circle cx="387.27" cy="178.13" r="3.8"/><circle cx="395.32" cy="175.68" r="3.8"/><circle cx="389.61" cy="176.56" r="3.8"/><circle cx="371.74" cy="178.94" r="3.8"/><circle cx="347.37" cy="181.24" r="3.8"/><circle cx="357.09" cy="177.33" r="3.8"/><circle cx="342.22" cy="177.29" r="3.8"/><circle cx="366.93" cy="180.36" r="3.8"/><circle cx="360.14" cy="180.15" r="3.8"/><circle cx="344.1" cy="177.96" r="3.8"/><circle cx="366.58" cy="182.25" r="3.8"/><circle cx="389.83" cy="179.9" r="3.8"/><circle cx="338.2" cy="177.83" r="3.8"/><circle cx="382.26" cy="176.78" r="3.8"/><circle cx="373.05" cy="178.44" r="3.8"/><circle cx="338.08" cy="182.44" r="3.8"/><circle cx="387.91" cy="176.55" r="3.8"/><circle cx="376.33" cy="177.18" r="3.8"/><circle cx="361.17" cy="179.05" r="3.8"/><circle cx="356.25" cy="177.53" r="3.8"/><circle cx="362.19" cy="180" r="3.8"/><circle cx="353.62" cy="176.5" r="3.8"/><circle cx="383.62" cy="177.47" r="3.8"/><circle cx="397.11" cy="179.22" r="3.8"/><circle cx="383.13" cy="177.49" r="3.8"/><circle cx="389.65" cy="175.69" r="3.8"/><circle cx="346.31" cy="175.71" r="3.8"/><circle cx="380.22" cy="180.31" r="3.8"/><circle cx="348.78" cy="178.02" r="3.8"/><circle cx="390.28" cy="179.45" r="3.8"/><circle cx="343.11" cy="176.7" r="3.8"/><circle cx="347.34" cy="175.93" r="3.8"/><circle cx="363.12" cy="175.55" r="3.8"/><circle cx="395.57" cy="178.2" r="3.8"/><circle cx="369.73" cy="179.85" r="3.8"/><circle cx="385.85" cy="181.16" r="3.8"/><circle cx="369" cy="182.5" r="3.8"/><circle cx="408.87" cy="172.05" r="3.8"/><circle cx="408.97" cy="170.1" r="3.8"/><circle cx="408.93" cy="174.34" r="3.8"/><circle cx="411.11" cy="174.9" r="3.8"/><circle cx="409.9" cy="173.77" r="3.8"/><circle cx="407.49" cy="172.05" r="3.8"/><circle cx="408.71" cy="174.03" r="3.8"/><circle cx="407.82" cy="172.34" r="3.8"/><circle cx="409.34" cy="174.89" r="3.8"/><circle cx="410.52" cy="173.79" r="3.8"/><circle cx="408.02" cy="174.75" r="3.8"/><circle cx="409.3" cy="176.2" r="3.8"/><circle cx="427.01" cy="178.66" r="3.8"/><circle cx="421.53" cy="178.25" r="3.8"/><circle cx="419.43" cy="180.06" r="3.8"/><circle cx="427.85" cy="178.39" r="3.8"/><circle cx="425.15" cy="181.1" r="3.8"/><circle cx="419.98" cy="182.03" r="3.8"/><circle cx="424.27" cy="175.68" r="3.8"/><circle cx="418.85" cy="176.08" r="3.8"/><circle cx="423.76" cy="179.93" r="3.8"/><circle cx="421.3" cy="181.9" r="3.8"/><circle cx="421.62" cy="177.94" r="3.8"/><circle cx="419.26" cy="182.28" r="3.8"/><circle cx="419.37" cy="181.68" r="3.8"/><circle cx="423.43" cy="178.77" r="3.8"/><circle cx="423.6" cy="176.25" r="3.8"/><circle cx="427.08" cy="182.43" r="3.8"/><circle cx="426.16" cy="179.11" r="3.8"/><circle cx="419.24" cy="181.01" r="3.8"/><circle cx="420.89" cy="181.62" r="3.8"/><circle cx="420.42" cy="178.88" r="3.8"/><circle cx="426.29" cy="175.58" r="3.8"/><circle cx="423.48" cy="174.65" r="3.8"/><circle cx="423" cy="182.5" r="3.8"/><circle cx="434.94" cy="170.99" r="3.8"/><circle cx="438.53" cy="175.17" r="3.8"/><circle cx="437.3" cy="171.69" r="3.8"/><circle cx="437.34" cy="174.06" r="3.8"/><circle cx="436.25" cy="173.26" r="3.8"/><circle cx="437.84" cy="170.09" r="3.8"/><circle cx="435.57" cy="172.57" r="3.8"/><circle cx="435.36" cy="172.13" r="3.8"/><circle cx="436.96" cy="170.96" r="3.8"/><circle cx="436.77" cy="171.45" r="3.8"/><circle cx="436.7" cy="175.5" r="3.8"/><circle cx="452.78" cy="176.82" r="3.8"/><circle cx="453.74" cy="174.32" r="3.8"/><circle cx="454.12" cy="175.23" r="3.8"/><circle cx="457.85" cy="179.1" r="3.8"/><circle cx="451.51" cy="177.5" r="3.8"/><circle cx="453.5" cy="179.86" r="3.8"/><circle cx="455.24" cy="180.39" r="3.8"/><circle cx="451.72" cy="182.45" r="3.8"/><circle cx="456.28" cy="181.27" r="3.8"/><circle cx="450.72" cy="177.69" r="3.8"/><circle cx="452.75" cy="181.69" r="3.8"/><circle cx="452.24" cy="178.46" r="3.8"/><circle cx="451.02" cy="181.69" r="3.8"/><circle cx="449.58" cy="174.46" r="3.8"/><circle cx="454.82" cy="181.65" r="3.8"/><circle cx="454.91" cy="179.08" r="3.8"/><circle cx="455.16" cy="176.59" r="3.8"/><circle cx="453.11" cy="174.59" r="3.8"/><circle cx="447.03" cy="177.8" r="3.8"/><circle cx="451.93" cy="177.37" r="3.8"/><circle cx="446.09" cy="179.91" r="3.8"/><circle cx="452.24" cy="176.03" r="3.8"/><circle cx="449.39" cy="177.36" r="3.8"/><circle cx="448.48" cy="174.58" r="3.8"/><circle cx="457.23" cy="182.22" r="3.8"/><circle cx="454.05" cy="181.37" r="3.8"/><circle cx="450.88" cy="180.84" r="3.8"/><circle cx="451.9" cy="182.5" r="3.8"/><circle cx="465.22" cy="171.29" r="3.8"/><circle cx="465.22" cy="171.98" r="3.8"/><circle cx="465.22" cy="171.49" r="3.8"/><circle cx="465.22" cy="170.37" r="3.8"/><circle cx="464.4" cy="172.4" r="3.8"/><circle cx="470.42" cy="160" r="3.8"/><circle cx="470.42" cy="160.54" r="3.8"/><circle cx="468.95" cy="161.8" r="3.8"/><circle cx="474.53" cy="170.34" r="3.8"/><circle cx="474.91" cy="174.48" r="3.8"/><circle cx="474.58" cy="171.96" r="3.8"/><circle cx="474.71" cy="170.25" r="3.8"/><circle cx="474.34" cy="174.94" r="3.8"/><circle cx="474.52" cy="172.74" r="3.8"/><circle cx="474.94" cy="175.38" r="3.8"/><circle cx="474.65" cy="175.5" r="3.8"/></g>
<line x1="58.5" y1="11.5" x2="58.5" y2="90" stroke="#0072BD" stroke-width="1"/>
<g fill="none" stroke="#0072BD" stroke-width="0.9"><circle cx="58.5" cy="11.4" r="3.8"/><circle cx="58.5" cy="23" r="3.8"/><circle cx="58.5" cy="42.2" r="3.8"/><circle cx="58.5" cy="53" r="3.8"/><circle cx="106.5" cy="94.6" r="3.8"/><circle cx="181.3" cy="176.7" r="3.8"/><circle cx="58.5" cy="65.3" r="3.8"/><circle cx="58.5" cy="68.15" r="3.8"/><circle cx="58.5" cy="71" r="3.8"/><circle cx="58.5" cy="73.85" r="3.8"/><circle cx="58.5" cy="76.7" r="3.8"/><circle cx="58.5" cy="79.55" r="3.8"/><circle cx="58.5" cy="82.4" r="3.8"/></g>
<line x1="106.5" y1="94.6" x2="106.5" y2="104" stroke="#0072BD" stroke-width="1"/>
<line x1="181.3" y1="176.7" x2="181.3" y2="166" stroke="#0072BD" stroke-width="1"/>
<line x1="58.5" y1="262" x2="58.5" y2="400" stroke="#0072BD" stroke-width="1.2"/>
<polygon fill="#0072BD" points="55.8,397.2 476.8,397.2 476.6,409.25 475.8,407.8 475,407.61 474.2,407.3 473.4,406.28 472.6,406.63 471.8,407.11 471,408.06 470.2,407.13 469.4,406.98 468.6,406.18 467.8,407.1 467,406.06 466.2,409.71 465.4,407.86 464.6,406.88 463.8,407.74 463,406.89 462.2,409.36 461.4,407.58 460.6,409.27 459.8,406.2 459,407.39 458.2,406.91 457.4,406.82 456.6,406.39 455.8,410.13 455,408.36 454.2,406.4 453.4,407.87 452.6,406.79 451.8,406.25 451,406.93 450.2,407.76 449.4,407.55 448.6,407.93 447.8,409.49 447,409.01 446.2,406.78 445.4,408.78 444.6,407.37 443.8,406.84 443,406.63 442.2,407.49 441.4,406.91 440.6,407.15 439.8,406.77 439,406.81 438.2,406.12 437.4,407.78 436.6,409.24 435.8,407.11 435,407.84 434.2,407 433.4,408.03 432.6,407.36 431.8,407.54 431,409.4 430.2,406.6 429.4,407.81 428.6,408.06 427.8,406.75 427,406.78 426.2,406.68 425.4,409.62 424.6,409.49 423.8,407.44 423,407.67 422.2,410.21 421.4,406.86 420.6,410.45 419.8,408.88 419,406.38 418.2,407.96 417.4,406.42 416.6,407.12 415.8,407.13 415,407.19 414.2,407.57 413.4,409.06 412.6,407.02 411.8,406.74 411,408.06 410.2,407.97 409.4,406.16 408.6,406.74 407.8,408.58 407,408.07 406.2,406.22 405.4,407.12 404.6,406.1 403.8,407.73 403,406.37 402.2,409.97 401.4,407.42 400.6,406.37 399.8,410.29 399,408.82 398.2,407.01 397.4,408.89 396.6,406.01 395.8,407.33 395,407.56 394.2,409.46 393.4,408.81 392.6,408.85 391.8,406.67 391,407.99 390.2,406.66 389.4,406.8 388.6,407.93 387.8,407.35 387,407.88 386.2,406.78 385.4,409.77 384.6,406.59 383.8,407.15 383,406.06 382.2,407.96 381.4,407.79 380.6,407.1 379.8,408.99 379,407.69 378.2,406.74 377.4,407.15 376.6,407.44 375.8,406.36 375,406.87 374.2,407.71 373.4,407.4 372.6,407.9 371.8,407.35 371,408.34 370.2,407.75 369.4,407.66 368.6,409.97 367.8,407.92 367,407.32 366.2,406.09 365.4,406.88 364.6,406.52 363.8,406.2 363,409.5 362.2,406.03 361.4,406.07 360.6,407.65 359.8,406.98 359,406.43 358.2,408.41 357.4,409.47 356.6,406.51 355.8,407.69 355,406.97 354.2,407.79 353.4,407.14 352.6,406.97 351.8,406.34 351,407.84 350.2,408.05 349.4,407.6 348.6,408.64 347.8,406.22 347,407.57 346.2,406.72 345.4,406.58 344.6,409.94 343.8,406.62 343,406.2 342.2,407.96 341.4,407.93 340.6,406.85 339.8,407.02 339,407.9 338.2,406.88 337.4,407.96 336.6,408.07 335.8,407.53 335,406.35 334.2,408.78 333.4,408.09 332.6,406.45 331.8,407.36 331,407.54 330.2,409.52 329.4,406.16 328.6,406.97 327.8,406.43 327,407.25 326.2,410.14 325.4,406.73 324.6,407.6 323.8,407.29 323,406.47 322.2,409.32 321.4,408.03 320.6,408.35 319.8,408.47 319,407.66 318.2,407.64 317.4,407.18 316.6,408.03 315.8,406.02 315,407.35 314.2,408.64 313.4,409.73 312.6,409.55 311.8,409.18 311,407.54 310.2,406.94 309.4,407.84 308.6,407.77 307.8,406.2 307,407.59 306.2,406.05 305.4,406.32 304.6,406.81 303.8,407.27 303,406.36 302.2,407.01 301.4,406.48 300.6,406.76 299.8,407.16 299,407.54 298.2,409.93 297.4,406.7 296.6,409.16 295.8,406.18 295,407.27 294.2,406.07 293.4,407.93 292.6,407 291.8,406.42 291,407.37 290.2,408.42 289.4,408.5 288.6,408.04 287.8,409.8 287,407.71 286.2,406.52 285.4,407.96 284.6,407.65 283.8,407.53 283,408.41 282.2,406.35 281.4,409.34 280.6,410.42 279.8,406.11 279,406.86 278.2,409.29 277.4,406.35 276.6,408.54 275.8,406.36 275,406.41 274.2,409.31 273.4,406.01 272.6,407.25 271.8,406.78 271,407.51 270.2,406.38 269.4,407.59 268.6,406.64 267.8,406.89 267,407.47 266.2,406.34 265.4,406.16 264.6,408.39 263.8,406.92 263,407.96 262.2,406.72 261.4,407.5 260.6,407.26 259.8,406.28 259,407.83 258.2,407.95 257.4,409.49 256.6,409.09 255.8,410.04 255,407.19 254.2,407.36 253.4,406.08 252.6,406.41 251.8,407.1 251,407.39 250.2,410 249.4,407.02 248.6,406.63 247.8,408.05 247,407.22 246.2,406.8 245.4,407.87 244.6,406.06 243.8,406.53 243,407.19 242.2,406.41 241.4,406.31 240.6,407.57 239.8,407.56 239,406.4 238.2,407.53 237.4,410.01 236.6,408.9 235.8,407.62 235,406.85 234.2,406.74 233.4,406.52 232.6,409.41 231.8,406.56 231,407.55 230.2,407.58 229.4,409.87 228.6,406.96 227.8,407.17 227,407.51 226.2,406.3 225.4,410.35 224.6,410.26 223.8,406.38 223,407.42 222.2,406.74 221.4,406.24 220.6,407.41 219.8,407.58 219,407.69 218.2,407.42 217.4,407.59 216.6,406.79 215.8,410.37 215,410.25 214.2,408.9 213.4,408.01 212.6,406.44 211.8,406.92 211,409.04 210.2,406.75 209.4,407.75 208.6,408.5 207.8,406.66 207,406.54 206.2,407.8 205.4,406.39 204.6,406.4 203.8,407.79 203,407.42 202.2,406.49 201.4,406.98 200.6,407.54 199.8,407.8 199,407.01 198.2,407.73 197.4,406.98 196.6,407.01 195.8,406.3 195,406.68 194.2,409.09 193.4,409.35 192.6,407.23 191.8,406.87 191,406.62 190.2,407.45 189.4,406.66 188.6,406.42 187.8,406.39 187,406.93 186.2,407.92 185.4,409.95 184.6,407.35 183.8,407.09 183,407.59 182.2,409.82 181.4,408.04 180.6,409.4 179.8,406.83 179,406.83 178.2,407.29 177.4,408.85 176.6,407.18 175.8,409.01 175,406.22 174.2,407.07 173.4,409.99 172.6,408 171.8,407.41 171,410.16 170.2,408.35 169.4,408.52 168.6,410 167.8,406.22 167,407.54 166.2,407.66 165.4,407.39 164.6,406.26 163.8,406.55 163,407.89 162.2,407.97 161.4,406.89 160.6,409.23 159.8,406.51 159,407.46 158.2,407.48 157.4,406.78 156.6,407.31 155.8,406.8 155,407.27 154.2,409.12 153.4,407.5 152.6,406.26 151.8,406.4 151,407.23 150.2,406.74 149.4,406.66 148.6,406.18 147.8,408.05 147,408.45 146.2,408.42 145.4,406.89 144.6,406.56 143.8,408.9 143,409.68 142.2,407.94 141.4,406.36 140.6,407.12 139.8,406.74 139,407 138.2,406.53 137.4,407.29 136.6,406.87 135.8,407.39 135,406.36 134.2,409.94 133.4,407.88 132.6,407.46 131.8,406.09 131,406.6 130.2,406.14 129.4,406.72 128.6,407.09 127.8,407.76 127,406.47 126.2,408 125.4,408.07 124.6,407.98 123.8,408.31 123,406.88 122.2,406.73 121.4,407.67 120.6,408.94 119.8,407.35 119,406.59 118.2,407.76 117.4,406.4 116.6,406.25 115.8,406.95 115,407.37 114.2,406.36 113.4,406.92 112.6,406.7 111.8,406.21 111,406.91 110.2,406.5 109.4,406.47 108.6,407.54 107.8,409.55 107,406.63 106.2,406.78 105.4,406.76 104.6,407.24 103.8,406.53 103,407.42 102.2,408.43 101.4,406.74 100.6,406.98 99.8,409.68 99,409.65 98.2,409.21 97.4,408.05 96.6,406.5 95.8,406.91 95,407.98 94.2,407.17 93.4,407.35 92.6,406.97 91.8,407.88 91,406.66 90.2,410.21 89.4,406.86 88.6,406.07 87.8,406.16 87,408.1 86.2,408.06 85.4,406.7 84.6,406.09 83.8,406.09 83,407.61 82.2,408.95 81.4,410.06 80.6,406.13 79.8,407.2 79,406.44 78.2,407.2 77.4,408.03 76.6,410.19 75.8,407.8 75,407.43 74.2,407.23 73.4,406.74 72.6,407.07 71.8,407.32 71,408.03 70.2,408.78 69.4,407.96 68.6,407.68 67.8,407.93 67,407.85 66.2,406.99 65.4,406.07 64.6,407.24 63.8,406.13 63,407.56 62.2,407.82 61.4,406.32 60.6,407 59.8,406.99 59,406.49 58.2,407.76 57.4,408.33 56.6,406.78 55.8,406.5"/>
<path d="M144.3 405V413.7M181.3 405V410.5" stroke="#0072BD" stroke-width="1"/>
<path d="M55.8 260.8l5.4 5.4M55.8 266.2l5.4 -5.4M55.8 292.3l5.4 5.4M55.8 297.7l5.4 -5.4M55.8 294.9l5.4 5.4M55.8 300.3l5.4 -5.4M55.8 299.3l5.4 5.4M55.8 304.7l5.4 -5.4M55.8 310.1l5.4 5.4M55.8 315.5l5.4 -5.4M55.8 343.9l5.4 5.4M55.8 349.3l5.4 -5.4M55.8 347.3l5.4 5.4M55.8 352.7l5.4 -5.4M55.8 349.5l5.4 5.4M55.8 354.9l5.4 -5.4M55.8 366.4l5.4 5.4M55.8 371.8l5.4 -5.4M267.4 407.11l5.4 5.4M267.4 412.51l5.4 -5.4M270.08 407.43l5.4 5.4M270.08 412.83l5.4 -5.4M269.85 417.9l5.4 5.4M269.85 423.3l5.4 -5.4M266.47 417.55l5.4 5.4M266.47 422.95l5.4 -5.4M267.81 407.37l5.4 5.4M267.81 412.77l5.4 -5.4M266.8 404.85l5.4 5.4M266.8 410.25l5.4 -5.4M268.29 409.87l5.4 5.4M268.29 415.27l5.4 -5.4M269.99 416.38l5.4 5.4M269.99 421.78l5.4 -5.4M266.17 410.12l5.4 5.4M266.17 415.52l5.4 -5.4M267.77 406.88l5.4 5.4M267.77 412.28l5.4 -5.4M267.1 408.12l5.4 5.4M267.1 413.52l5.4 -5.4M311.43 406.34l5.4 5.4M311.43 411.74l5.4 -5.4M308.63 405.62l5.4 5.4M308.63 411.02l5.4 -5.4M310.22 407.69l5.4 5.4M310.22 413.09l5.4 -5.4M309.28 408.5l5.4 5.4M309.28 413.9l5.4 -5.4M309.13 408.32l5.4 5.4M309.13 413.72l5.4 -5.4M311.02 405.35l5.4 5.4M311.02 410.75l5.4 -5.4M335.81 410.02l5.4 5.4M335.81 415.42l5.4 -5.4M333.7 412.97l5.4 5.4M333.7 418.37l5.4 -5.4M334.58 410.71l5.4 5.4M334.58 416.11l5.4 -5.4M328.86 415.71l5.4 5.4M328.86 421.11l5.4 -5.4M336.9 411.41l5.4 5.4M336.9 416.81l5.4 -5.4M334.09 408.19l5.4 5.4M334.09 413.59l5.4 -5.4M337.29 414.24l5.4 5.4M337.29 419.64l5.4 -5.4M330.52 416.15l5.4 5.4M330.52 421.55l5.4 -5.4M338.16 409.32l5.4 5.4M338.16 414.72l5.4 -5.4M338.26 411.31l5.4 5.4M338.26 416.71l5.4 -5.4M330.09 414.69l5.4 5.4M330.09 420.09l5.4 -5.4M331.69 414.92l5.4 5.4M331.69 420.32l5.4 -5.4M334.13 405.86l5.4 5.4M334.13 411.26l5.4 -5.4M333.58 416.64l5.4 5.4M333.58 422.04l5.4 -5.4M333.08 412.12l5.4 5.4M333.08 417.52l5.4 -5.4M336.93 410.78l5.4 5.4M336.93 416.18l5.4 -5.4M367.88 407.8l5.4 5.4M367.88 413.2l5.4 -5.4M387.08 405.52l5.4 5.4M387.08 410.92l5.4 -5.4M344.73 408.87l5.4 5.4M344.73 414.27l5.4 -5.4M371.35 406.12l5.4 5.4M371.35 411.52l5.4 -5.4M391.04 409.61l5.4 5.4M391.04 415.01l5.4 -5.4M370.71 410.23l5.4 5.4M370.71 415.63l5.4 -5.4M387.79 408.79l5.4 5.4M387.79 414.19l5.4 -5.4M356.19 404.36l5.4 5.4M356.19 409.76l5.4 -5.4M378.66 408.71l5.4 5.4M378.66 414.11l5.4 -5.4M359.64 407.17l5.4 5.4M359.64 412.57l5.4 -5.4M372.2 405.8l5.4 5.4M372.2 411.2l5.4 -5.4M379.76 407.68l5.4 5.4M379.76 413.08l5.4 -5.4M361.66 404.96l5.4 5.4M361.66 410.36l5.4 -5.4M371.43 406.22l5.4 5.4M371.43 411.62l5.4 -5.4M381.34 405.34l5.4 5.4M381.34 410.74l5.4 -5.4M362.17 405.48l5.4 5.4M362.17 410.88l5.4 -5.4M362.98 407.76l5.4 5.4M362.98 413.16l5.4 -5.4M345.5 404.63l5.4 5.4M345.5 410.03l5.4 -5.4M367.27 405.51l5.4 5.4M367.27 410.91l5.4 -5.4M368.6 405.3l5.4 5.4M368.6 410.7l5.4 -5.4M345.15 407.53l5.4 5.4M345.15 412.93l5.4 -5.4M392.84 409.51l5.4 5.4M392.84 414.91l5.4 -5.4M369.2 406.68l5.4 5.4M369.2 412.08l5.4 -5.4M343.13 405.96l5.4 5.4M343.13 411.36l5.4 -5.4M357.53 409.95l5.4 5.4M357.53 415.35l5.4 -5.4M346.1 409.99l5.4 5.4M346.1 415.39l5.4 -5.4M366.95 406.9l5.4 5.4M366.95 412.3l5.4 -5.4M354.51 410.08l5.4 5.4M354.51 415.48l5.4 -5.4M350.09 407.73l5.4 5.4M350.09 413.13l5.4 -5.4M368.92 405.5l5.4 5.4M368.92 410.9l5.4 -5.4M416.87 415.63l5.4 5.4M416.87 421.03l5.4 -5.4M425.95 412.73l5.4 5.4M425.95 418.13l5.4 -5.4M427.75 405.43l5.4 5.4M427.75 410.83l5.4 -5.4M424.56 412.93l5.4 5.4M424.56 418.33l5.4 -5.4M416.91 409.56l5.4 5.4M416.91 414.96l5.4 -5.4M428.89 408.06l5.4 5.4M428.89 413.46l5.4 -5.4M425.5 406.2l5.4 5.4M425.5 411.6l5.4 -5.4M423.97 407.4l5.4 5.4M423.97 412.8l5.4 -5.4M421.44 408.58l5.4 5.4M421.44 413.98l5.4 -5.4M427.23 412.87l5.4 5.4M427.23 418.27l5.4 -5.4M421.37 412.2l5.4 5.4M421.37 417.6l5.4 -5.4M420.14 413.55l5.4 5.4M420.14 418.95l5.4 -5.4M417.42 410.56l5.4 5.4M417.42 415.96l5.4 -5.4M422.67 408.76l5.4 5.4M422.67 414.16l5.4 -5.4M414.05 406.25l5.4 5.4M414.05 411.65l5.4 -5.4M423.55 406.73l5.4 5.4M423.55 412.13l5.4 -5.4M453.95 410.36l5.4 5.4M453.95 415.76l5.4 -5.4M457.46 414.47l5.4 5.4M457.46 419.87l5.4 -5.4M453.39 408.77l5.4 5.4M453.39 414.17l5.4 -5.4M441.08 410.98l5.4 5.4M441.08 416.38l5.4 -5.4M453.72 415.35l5.4 5.4M453.72 420.75l5.4 -5.4M443.95 406.2l5.4 5.4M443.95 411.6l5.4 -5.4M457.95 413.17l5.4 5.4M457.95 418.57l5.4 -5.4M449.02 413.16l5.4 5.4M449.02 418.56l5.4 -5.4M442.99 410.83l5.4 5.4M442.99 416.23l5.4 -5.4M452.34 411.55l5.4 5.4M452.34 416.95l5.4 -5.4M443.2 405.94l5.4 5.4M443.2 411.34l5.4 -5.4M451.55 414.91l5.4 5.4M451.55 420.31l5.4 -5.4M442.79 404.39l5.4 5.4M442.79 409.79l5.4 -5.4M441.79 413.72l5.4 5.4M441.79 419.12l5.4 -5.4M447.33 409.77l5.4 5.4M447.33 415.17l5.4 -5.4M458.19 411.63l5.4 5.4M458.19 417.03l5.4 -5.4M445.04 412.71l5.4 5.4M445.04 418.11l5.4 -5.4M440.34 407.68l5.4 5.4M440.34 413.08l5.4 -5.4M408.48 404.98l5.4 5.4M408.48 410.38l5.4 -5.4M397.82 406.37l5.4 5.4M397.82 411.77l5.4 -5.4M402.55 408.18l5.4 5.4M402.55 413.58l5.4 -5.4M398.93 407.51l5.4 5.4M398.93 412.91l5.4 -5.4M403.52 407.52l5.4 5.4M403.52 412.92l5.4 -5.4M464.98 405.97l5.4 5.4M464.98 411.37l5.4 -5.4M463.2 404.86l5.4 5.4M463.2 410.26l5.4 -5.4M465.09 406.3l5.4 5.4M465.09 411.7l5.4 -5.4M463.48 404.87l5.4 5.4M463.48 410.27l5.4 -5.4M464.54 404.54l5.4 5.4M464.54 409.94l5.4 -5.4M141.6 411l5.4 5.4M141.6 416.4l5.4 -5.4M178.6 407.8l5.4 5.4M178.6 413.2l5.4 -5.4" stroke="#0072BD" stroke-width="1.05" fill="none"/>
<polyline fill="none" stroke="#0072BD" stroke-width="1" points="65.13,524.1 72.07,532.5 79,537 85.93,542 92.87,548.3 99.8,552.5 106.73,557 113.67,563.3 120.6,566.5 127.53,572.8 134.47,579 141.4,583.4 148.33,589 155.27,593.4 162.2,599 169.13,604.4 176.07,609 183,614 189.93,618.6 196.87,624 203.8,628.6 210.73,631.9 217.67,636.1 224.6,639 231.53,640.9 238.47,643.3 245.4,644.8 252.33,645.7 259.27,646.4 266.2,647.4 273.13,648.1 280.07,649.1 287,650 293.93,650.8 300.87,651.5 307.8,652.2 314.73,652.7 321.67,653.1 328.6,654.1 335.53,655 342.47,655.5 349.4,656 356.33,656.5 363.27,657 370.2,657.8 377.13,658.6 384.07,659.4 391,659.9 397.93,660.4 404.87,661.2 411.8,661.7 418.73,662.5 425.67,663 432.6,663.5 439.53,664.6"/>
<path d="M61.33 524.1h7.6M65.13 520.3v7.6M62.45 521.41l5.37 5.37M62.45 526.79l5.37 -5.37M68.27 532.5h7.6M72.07 528.7v7.6M69.38 529.81l5.37 5.37M69.38 535.19l5.37 -5.37M75.2 537h7.6M79 533.2v7.6M76.31 534.31l5.37 5.37M76.31 539.69l5.37 -5.37M82.13 542h7.6M85.93 538.2v7.6M83.25 539.31l5.37 5.37M83.25 544.69l5.37 -5.37M89.07 548.3h7.6M92.87 544.5v7.6M90.18 545.61l5.37 5.37M90.18 550.99l5.37 -5.37M96 552.5h7.6M99.8 548.7v7.6M97.11 549.81l5.37 5.37M97.11 555.19l5.37 -5.37M102.93 557h7.6M106.73 553.2v7.6M104.05 554.31l5.37 5.37M104.05 559.69l5.37 -5.37M109.87 563.3h7.6M113.67 559.5v7.6M110.98 560.61l5.37 5.37M110.98 565.99l5.37 -5.37M116.8 566.5h7.6M120.6 562.7v7.6M117.91 563.81l5.37 5.37M117.91 569.19l5.37 -5.37M123.73 572.8h7.6M127.53 569v7.6M124.85 570.11l5.37 5.37M124.85 575.49l5.37 -5.37M130.67 579h7.6M134.47 575.2v7.6M131.78 576.31l5.37 5.37M131.78 581.69l5.37 -5.37M137.6 583.4h7.6M141.4 579.6v7.6M138.71 580.71l5.37 5.37M138.71 586.09l5.37 -5.37M144.53 589h7.6M148.33 585.2v7.6M145.65 586.31l5.37 5.37M145.65 591.69l5.37 -5.37M151.47 593.4h7.6M155.27 589.6v7.6M152.58 590.71l5.37 5.37M152.58 596.09l5.37 -5.37M158.4 599h7.6M162.2 595.2v7.6M159.51 596.31l5.37 5.37M159.51 601.69l5.37 -5.37M165.33 604.4h7.6M169.13 600.6v7.6M166.45 601.71l5.37 5.37M166.45 607.09l5.37 -5.37M172.27 609h7.6M176.07 605.2v7.6M173.38 606.31l5.37 5.37M173.38 611.69l5.37 -5.37M179.2 614h7.6M183 610.2v7.6M180.31 611.31l5.37 5.37M180.31 616.69l5.37 -5.37M186.13 618.6h7.6M189.93 614.8v7.6M187.25 615.91l5.37 5.37M187.25 621.29l5.37 -5.37M193.07 624h7.6M196.87 620.2v7.6M194.18 621.31l5.37 5.37M194.18 626.69l5.37 -5.37M200 628.6h7.6M203.8 624.8v7.6M201.11 625.91l5.37 5.37M201.11 631.29l5.37 -5.37M206.93 631.9h7.6M210.73 628.1v7.6M208.05 629.21l5.37 5.37M208.05 634.59l5.37 -5.37M213.87 636.1h7.6M217.67 632.3v7.6M214.98 633.41l5.37 5.37M214.98 638.79l5.37 -5.37M220.8 639h7.6M224.6 635.2v7.6M221.91 636.31l5.37 5.37M221.91 641.69l5.37 -5.37M227.73 640.9h7.6M231.53 637.1v7.6M228.85 638.21l5.37 5.37M228.85 643.59l5.37 -5.37M234.67 643.3h7.6M238.47 639.5v7.6M235.78 640.61l5.37 5.37M235.78 645.99l5.37 -5.37M241.6 644.8h7.6M245.4 641v7.6M242.71 642.11l5.37 5.37M242.71 647.49l5.37 -5.37M248.53 645.7h7.6M252.33 641.9v7.6M249.65 643.01l5.37 5.37M249.65 648.39l5.37 -5.37M255.47 646.4h7.6M259.27 642.6v7.6M256.58 643.71l5.37 5.37M256.58 649.09l5.37 -5.37M262.4 647.4h7.6M266.2 643.6v7.6M263.51 644.71l5.37 5.37M263.51 650.09l5.37 -5.37M269.33 648.1h7.6M273.13 644.3v7.6M270.45 645.41l5.37 5.37M270.45 650.79l5.37 -5.37M276.27 649.1h7.6M280.07 645.3v7.6M277.38 646.41l5.37 5.37M277.38 651.79l5.37 -5.37M283.2 650h7.6M287 646.2v7.6M284.31 647.31l5.37 5.37M284.31 652.69l5.37 -5.37M290.13 650.8h7.6M293.93 647v7.6M291.25 648.11l5.37 5.37M291.25 653.49l5.37 -5.37M297.07 651.5h7.6M300.87 647.7v7.6M298.18 648.81l5.37 5.37M298.18 654.19l5.37 -5.37M304 652.2h7.6M307.8 648.4v7.6M305.11 649.51l5.37 5.37M305.11 654.89l5.37 -5.37M310.93 652.7h7.6M314.73 648.9v7.6M312.05 650.01l5.37 5.37M312.05 655.39l5.37 -5.37M317.87 653.1h7.6M321.67 649.3v7.6M318.98 650.41l5.37 5.37M318.98 655.79l5.37 -5.37M324.8 654.1h7.6M328.6 650.3v7.6M325.91 651.41l5.37 5.37M325.91 656.79l5.37 -5.37M331.73 655h7.6M335.53 651.2v7.6M332.85 652.31l5.37 5.37M332.85 657.69l5.37 -5.37M338.67 655.5h7.6M342.47 651.7v7.6M339.78 652.81l5.37 5.37M339.78 658.19l5.37 -5.37M345.6 656h7.6M349.4 652.2v7.6M346.71 653.31l5.37 5.37M346.71 658.69l5.37 -5.37M352.53 656.5h7.6M356.33 652.7v7.6M353.65 653.81l5.37 5.37M353.65 659.19l5.37 -5.37M359.47 657h7.6M363.27 653.2v7.6M360.58 654.31l5.37 5.37M360.58 659.69l5.37 -5.37M366.4 657.8h7.6M370.2 654v7.6M367.51 655.11l5.37 5.37M367.51 660.49l5.37 -5.37M373.33 658.6h7.6M377.13 654.8v7.6M374.45 655.91l5.37 5.37M374.45 661.29l5.37 -5.37M380.27 659.4h7.6M384.07 655.6v7.6M381.38 656.71l5.37 5.37M381.38 662.09l5.37 -5.37M387.2 659.9h7.6M391 656.1v7.6M388.31 657.21l5.37 5.37M388.31 662.59l5.37 -5.37M394.13 660.4h7.6M397.93 656.6v7.6M395.25 657.71l5.37 5.37M395.25 663.09l5.37 -5.37M401.07 661.2h7.6M404.87 657.4v7.6M402.18 658.51l5.37 5.37M402.18 663.89l5.37 -5.37M408 661.7h7.6M411.8 657.9v7.6M409.11 659.01l5.37 5.37M409.11 664.39l5.37 -5.37M414.93 662.5h7.6M418.73 658.7v7.6M416.05 659.81l5.37 5.37M416.05 665.19l5.37 -5.37M421.87 663h7.6M425.67 659.2v7.6M422.98 660.31l5.37 5.37M422.98 665.69l5.37 -5.37M428.8 663.5h7.6M432.6 659.7v7.6M429.91 660.81l5.37 5.37M429.91 666.19l5.37 -5.37M435.73 664.6h7.6M439.53 660.8v7.6M436.85 661.91l5.37 5.37M436.85 667.29l5.37 -5.37" stroke="#0072BD" stroke-width="0.8" fill="none"/>
<text x="58.5" y="204.1" text-anchor="middle" font-family="'Liberation Sans', sans-serif" font-size="15.2" fill="#262626">0</text>
<text x="110.5" y="204.1" text-anchor="middle" font-family="'Liberation Sans', sans-serif" font-size="15.2" fill="#262626">2000</text>
<text x="162.5" y="204.1" text-anchor="middle" font-family="'Liberation Sans', sans-serif" font-size="15.2" fill="#262626">4000</text>
<text x="214.5" y="204.1" text-anchor="middle" font-family="'Liberation Sans', sans-serif" font-size="15.2" fill="#262626">6000</text>
<text x="266.5" y="204.1" text-anchor="middle" font-family="'Liberation Sans', sans-serif" font-size="15.2" fill="#262626">8000</text>
<text x="318.5" y="204.1" text-anchor="middle" font-family="'Liberation Sans', sans-serif" font-size="15.2" fill="#262626">10000</text>
<text x="370.5" y="204.1" text-anchor="middle" font-family="'Liberation Sans', sans-serif" font-size="15.2" fill="#262626">12000</text>
<text x="422.5" y="204.1" text-anchor="middle" font-family="'Liberation Sans', sans-serif" font-size="15.2" fill="#262626">14000</text>
<text x="474.5" y="204.1" text-anchor="middle" font-family="'Liberation Sans', sans-serif" font-size="15.2" fill="#262626">16000</text>
<text x="58.5" y="444.9" text-anchor="middle" font-family="'Liberation Sans', sans-serif" font-size="15.2" fill="#262626">0</text>
<text x="110.5" y="444.9" text-anchor="middle" font-family="'Liberation Sans', sans-serif" font-size="15.2" fill="#262626">2000</text>
<text x="162.5" y="444.9" text-anchor="middle" font-family="'Liberation Sans', sans-serif" font-size="15.2" fill="#262626">4000</text>
<text x="214.5" y="444.9" text-anchor="middle" font-family="'Liberation Sans', sans-serif" font-size="15.2" fill="#262626">6000</text>
<text x="266.5" y="444.9" text-anchor="middle" font-family="'Liberation Sans', sans-serif" font-size="15.2" fill="#262626">8000</text>
<text x="318.5" y="444.9" text-anchor="middle" font-family="'Liberation Sans', sans-serif" font-size="15.2" fill="#262626">10000</text>
<text x="370.5" y="444.9" text-anchor="middle" font-family="'Liberation Sans', sans-serif" font-size="15.2" fill="#262626">12000</text>
<text x="422.5" y="444.9" text-anchor="middle" font-family="'Liberation Sans', sans-serif" font-size="15.2" fill="#262626">14000</text>
<text x="474.5" y="444.9" text-anchor="middle" font-family="'Liberation Sans', sans-serif" font-size="15.2" fill="#262626">16000</text>
<text x="58.5" y="686.6" text-anchor="middle" font-family="'Liberation Sans', sans-serif" font-size="15.2" fill="#262626">0</text>
<text x="104.72" y="686.6" text-anchor="middle" font-family="'Liberation Sans', sans-serif" font-size="15.2" fill="#262626">1000</text>
<text x="150.94" y="686.6" text-anchor="middle" font-family="'Liberation Sans', sans-serif" font-size="15.2" fill="#262626">2000</text>
<text x="197.17" y="686.6" text-anchor="middle" font-family="'Liberation Sans', sans-serif" font-size="15.2" fill="#262626">3000</text>
<text x="243.39" y="686.6" text-anchor="middle" font-family="'Liberation Sans', sans-serif" font-size="15.2" fill="#262626">4000</text>
<text x="289.61" y="686.6" text-anchor="middle" font-family="'Liberation Sans', sans-serif" font-size="15.2" fill="#262626">5000</text>
<text x="335.83" y="686.6" text-anchor="middle" font-family="'Liberation Sans', sans-serif" font-size="15.2" fill="#262626">6000</text>
<text x="382.06" y="686.6" text-anchor="middle" font-family="'Liberation Sans', sans-serif" font-size="15.2" fill="#262626">7000</text>
<text x="428.28" y="686.6" text-anchor="middle" font-family="'Liberation Sans', sans-serif" font-size="15.2" fill="#262626">8000</text>
<text x="474.5" y="686.6" text-anchor="middle" font-family="'Liberation Sans', sans-serif" font-size="15.2" fill="#262626">9000</text>
<text x="52.2" y="21.1" text-anchor="end" font-family="'Liberation Sans', sans-serif" font-size="15.4" fill="#262626">10<tspan dy="-7.0" font-size="12.6">5</tspan></text>
<text x="52.2" y="145.8" text-anchor="end" font-family="'Liberation Sans', sans-serif" font-size="15.4" fill="#262626">10<tspan dy="-7.0" font-size="12.6">4</tspan></text>
<text x="52.2" y="260.8" text-anchor="end" font-family="'Liberation Sans', sans-serif" font-size="15.4" fill="#262626">10<tspan dy="-7.0" font-size="12.6">-7</tspan></text>
<text x="52.2" y="408.6" text-anchor="end" font-family="'Liberation Sans', sans-serif" font-size="15.4" fill="#262626">10<tspan dy="-7.0" font-size="12.6">-8</tspan></text>
<text x="52.2" y="502" text-anchor="end" font-family="'Liberation Sans', sans-serif" font-size="15.4" fill="#262626">10<tspan dy="-7.0" font-size="12.6">0</tspan></text>
<text x="52.2" y="608.9" text-anchor="end" font-family="'Liberation Sans', sans-serif" font-size="15.4" fill="#262626">10<tspan dy="-7.0" font-size="12.6">-5</tspan></text>
<text x="107.8" y="26.8" font-family="'Liberation Serif', serif" font-size="15.4" fill="#000" textLength="52.8" lengthAdjust="spacingAndGlyphs">Number</text>
<text x="166.2" y="26.8" font-family="'Liberation Serif', serif" font-size="15.4" fill="#000" textLength="13.6" lengthAdjust="spacingAndGlyphs">of</text>
<text x="183.6" y="26.8" font-family="'Liberation Serif', serif" font-size="15.4" fill="#000" textLength="62.4" lengthAdjust="spacingAndGlyphs">iterations</text>
<text x="251.5" y="26.8" font-family="'Liberation Serif', serif" font-size="15.4" fill="#000" textLength="33.3" lengthAdjust="spacingAndGlyphs">(over</text>
<text x="289.6" y="26.8" font-family="'Liberation Serif', serif" font-size="15.4" fill="#000" textLength="85.2" lengthAdjust="spacingAndGlyphs">pseudo-time)</text>
<text x="381.2" y="26.8" font-family="'Liberation Serif', serif" font-size="15.4" fill="#000" textLength="21" lengthAdjust="spacingAndGlyphs">per</text>
<text x="408" y="26.8" font-family="'Liberation Serif', serif" font-size="15.4" fill="#000" textLength="17.3" lengthAdjust="spacingAndGlyphs">Δ<tspan font-style="italic">t</tspan></text>
<text x="224.1" y="267.5" font-family="'Liberation Serif', serif" font-size="15.4" fill="#000" textLength="34.7" lengthAdjust="spacingAndGlyphs">Error</text>
<text x="264.4" y="267.5" font-family="'Liberation Serif', serif" font-size="15.4" fill="#000" textLength="20" lengthAdjust="spacingAndGlyphs">per</text>
<text x="291.5" y="267.5" font-family="'Liberation Serif', serif" font-size="15.4" fill="#000" textLength="17.9" lengthAdjust="spacingAndGlyphs">Δ<tspan font-style="italic">t</tspan></text>
<text x="70.6" y="509.7" font-family="'Liberation Serif', serif" font-size="15.4" fill="#000" textLength="33.8" lengthAdjust="spacingAndGlyphs">Error</text>
<text x="111.6" y="509.7" font-family="'Liberation Serif', serif" font-size="15.4" fill="#000" textLength="69.8" lengthAdjust="spacingAndGlyphs">magnitude</text>
<text x="186.6" y="509.7" font-family="'Liberation Serif', serif" font-size="15.4" fill="#000" textLength="40.8" lengthAdjust="spacingAndGlyphs">versus</text>
<text x="232.6" y="509.7" font-family="'Liberation Serif', serif" font-size="15.4" fill="#000" textLength="61.8" lengthAdjust="spacingAndGlyphs">iterations</text>
<text x="299.6" y="509.7" font-family="'Liberation Serif', serif" font-size="15.4" fill="#000" textLength="17.8" lengthAdjust="spacingAndGlyphs">for</text>
<text x="320.6" y="509.7" font-family="'Liberation Serif', serif" font-size="15.4" fill="#000" textLength="22.8" lengthAdjust="spacingAndGlyphs">the</text>
<text x="348.9" y="509.7" font-family="'Liberation Serif', serif" font-size="15.4" fill="#000" textLength="22.9" lengthAdjust="spacingAndGlyphs">last</text>
<text x="378.2" y="509.7" font-family="'Liberation Serif', serif" font-size="15.4" fill="#000" textLength="27.2" lengthAdjust="spacingAndGlyphs">time</text>
<text x="409.3" y="509.7" font-family="'Liberation Serif', serif" font-size="15.4" fill="#000" textLength="28.4" lengthAdjust="spacingAndGlyphs">step</text>
<text x="444.7" y="509.7" font-family="'Liberation Serif', serif" font-size="15.4" fill="#000" textLength="17.9" lengthAdjust="spacingAndGlyphs">Δ<tspan font-style="italic">t</tspan></text>
<text x="218.6" y="221.7" font-family="'Liberation Serif', serif" font-size="15.4" fill="#262626" textLength="34.4" lengthAdjust="spacingAndGlyphs">Time</text>
<text x="257.8" y="221.7" font-family="'Liberation Serif', serif" font-size="15.4" fill="#262626" textLength="32.8" lengthAdjust="spacingAndGlyphs">Step,</text>
<text x="297.1" y="221.7" font-family="'Liberation Serif', serif" font-size="15.4" fill="#262626" textLength="17.9" lengthAdjust="spacingAndGlyphs">Δ<tspan font-style="italic">t</tspan></text>
<text x="218.6" y="462.7" font-family="'Liberation Serif', serif" font-size="15.4" fill="#262626" textLength="34.4" lengthAdjust="spacingAndGlyphs">Time</text>
<text x="257.8" y="462.7" font-family="'Liberation Serif', serif" font-size="15.4" fill="#262626" textLength="32.8" lengthAdjust="spacingAndGlyphs">Step,</text>
<text x="297.1" y="462.7" font-family="'Liberation Serif', serif" font-size="15.4" fill="#262626" textLength="17.9" lengthAdjust="spacingAndGlyphs">Δ<tspan font-style="italic">t</tspan></text>
<text x="212.8" y="706.5" font-family="'Liberation Sans', sans-serif" font-size="15.4" fill="#262626" textLength="108.3" lengthAdjust="spacingAndGlyphs">Iteration number</text>
<text transform="translate(19.3 155.2) rotate(-90)" x="0" y="0" font-family="'Liberation Serif', serif" font-size="15.4" fill="#262626" textLength="59.4" lengthAdjust="spacingAndGlyphs">Iteration</text>
<text transform="translate(19.3 90.3) rotate(-90)" x="0" y="0" font-family="'Liberation Serif', serif" font-size="15.4" fill="#262626" textLength="51.1" lengthAdjust="spacingAndGlyphs">number</text>
<text transform="translate(16.2 384.1) rotate(-90)" x="0" y="0" font-family="'Liberation Serif', serif" font-size="15.4" fill="#262626" textLength="34.3" lengthAdjust="spacingAndGlyphs">Final</text>
<text transform="translate(16.2 344.3) rotate(-90)" x="0" y="0" font-family="'Liberation Serif', serif" font-size="15.4" fill="#262626" textLength="52.9" lengthAdjust="spacingAndGlyphs">residual</text>
<text transform="translate(15.7 625.8) rotate(-90)" x="0" y="0" font-family="'Liberation Serif', serif" font-size="15.4" fill="#262626" textLength="56.9" lengthAdjust="spacingAndGlyphs">Residual</text>
<text transform="translate(15.7 563.6) rotate(-90)" x="0" y="0" font-family="'Liberation Serif', serif" font-size="15.4" fill="#262626" textLength="33" lengthAdjust="spacingAndGlyphs">error</text>
</svg>
</body></html>
